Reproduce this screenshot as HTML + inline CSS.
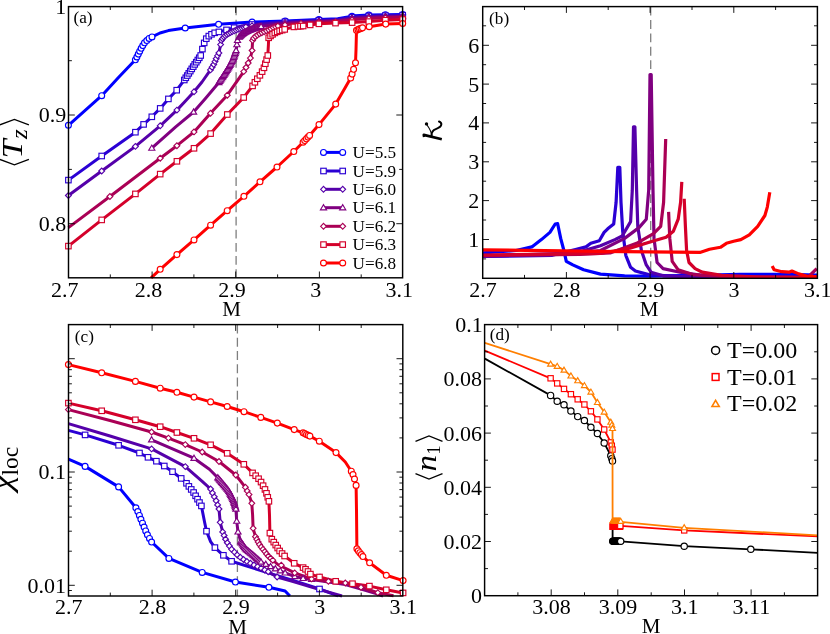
<!DOCTYPE html>
<html><head><meta charset="utf-8"><title>fig</title>
<style>
html,body{margin:0;padding:0;background:#fff;}
body{width:830px;height:634px;overflow:hidden;}
svg{display:block;will-change:transform;}
text{font-family:"Liberation Serif",serif;fill:#000;}
</style></head><body>
<svg width="830" height="634" viewBox="0 0 830 634">
<rect x="0" y="0" width="830" height="634" fill="#fff"/>
<g id="pa">
<clipPath id="ca"><rect x="68.5" y="6.6" width="334.1" height="271.2"/></clipPath>
<line x1="236.1" y1="6.6" x2="236.1" y2="277.8" stroke="#7f7f7f" stroke-width="1.3" stroke-dasharray="8.75 4.38" stroke-dashoffset="0"/>
<g>
<polyline points="68.4,125.3 101.7,95.7 118,78 135.4,59.8 138.1,54.5 141.2,48.2 144.8,42.4 148.7,38.6 152,36.9 160,33 168.4,30.6 185.2,28 218.6,24.3 252.1,22.1 285.2,21 318.9,19.5 337.7,18.7 355,15.8 368.8,15.1 385.4,14.8 402.7,14.4" fill="none" stroke="#0000FF" stroke-width="3.0" stroke-linecap="butt" stroke-linejoin="round"/>
<circle cx="68.4" cy="125.3" r="2.95" fill="#fff" stroke="#0000FF" stroke-width="1.15"/>
<circle cx="101.7" cy="95.7" r="2.95" fill="#fff" stroke="#0000FF" stroke-width="1.15"/>
<circle cx="135.4" cy="59.8" r="2.95" fill="#fff" stroke="#0000FF" stroke-width="1.15"/>
<circle cx="136.9" cy="56.9" r="2.95" fill="#fff" stroke="#0000FF" stroke-width="1.15"/>
<circle cx="138.3" cy="54.1" r="2.95" fill="#fff" stroke="#0000FF" stroke-width="1.15"/>
<circle cx="139.7" cy="51.2" r="2.95" fill="#fff" stroke="#0000FF" stroke-width="1.15"/>
<circle cx="141.2" cy="48.3" r="2.95" fill="#fff" stroke="#0000FF" stroke-width="1.15"/>
<circle cx="142.8" cy="45.6" r="2.95" fill="#fff" stroke="#0000FF" stroke-width="1.15"/>
<circle cx="144.5" cy="42.8" r="2.95" fill="#fff" stroke="#0000FF" stroke-width="1.15"/>
<circle cx="146.8" cy="40.5" r="2.95" fill="#fff" stroke="#0000FF" stroke-width="1.15"/>
<circle cx="149.1" cy="38.4" r="2.95" fill="#fff" stroke="#0000FF" stroke-width="1.15"/>
<circle cx="152" cy="36.9" r="2.95" fill="#fff" stroke="#0000FF" stroke-width="1.15"/>
<circle cx="185.2" cy="28" r="2.95" fill="#fff" stroke="#0000FF" stroke-width="1.15"/>
<circle cx="218.6" cy="24.3" r="2.95" fill="#fff" stroke="#0000FF" stroke-width="1.15"/>
<circle cx="252.1" cy="22.1" r="2.95" fill="#fff" stroke="#0000FF" stroke-width="1.15"/>
<circle cx="285.2" cy="21" r="2.95" fill="#fff" stroke="#0000FF" stroke-width="1.15"/>
<circle cx="318.9" cy="19.5" r="2.95" fill="#fff" stroke="#0000FF" stroke-width="1.15"/>
<circle cx="352" cy="16.3" r="2.95" fill="#fff" stroke="#0000FF" stroke-width="1.15"/>
<circle cx="368.8" cy="15.1" r="2.95" fill="#fff" stroke="#0000FF" stroke-width="1.15"/>
<circle cx="385.4" cy="14.8" r="2.95" fill="#fff" stroke="#0000FF" stroke-width="1.15"/>
<circle cx="402.7" cy="14.4" r="2.95" fill="#fff" stroke="#0000FF" stroke-width="1.15"/>
<polyline points="68.4,180.1 101.7,156 135.4,132.2 143.6,124.4 151.8,116.8 160.2,108.4 168.4,98.9 176.7,90.2 184.3,80 190,71.5 195,64 198.5,59 200.7,55.5 202.4,49.1 204.2,42.9 206.3,38.7 208.8,36.1 211.5,34.3 214.7,32.8 218.9,31.9 226.5,29.9 234.1,27.7 245.9,25.2 260,23.5 285,21.8 318.9,20.3 337.7,19.5 355,16.8 368.8,16 385.4,15.6 402.7,15.2" fill="none" stroke="#2A00D4" stroke-width="3.0" stroke-linecap="butt" stroke-linejoin="round"/>
<rect x="65.65" y="177.35" width="5.50" height="5.50" fill="#fff" stroke="#2A00D4" stroke-width="1.15"/>
<rect x="98.95" y="153.25" width="5.50" height="5.50" fill="#fff" stroke="#2A00D4" stroke-width="1.15"/>
<rect x="132.65" y="129.45" width="5.50" height="5.50" fill="#fff" stroke="#2A00D4" stroke-width="1.15"/>
<rect x="140.85" y="121.65" width="5.50" height="5.50" fill="#fff" stroke="#2A00D4" stroke-width="1.15"/>
<rect x="149.05" y="114.05" width="5.50" height="5.50" fill="#fff" stroke="#2A00D4" stroke-width="1.15"/>
<rect x="157.45" y="105.65" width="5.50" height="5.50" fill="#fff" stroke="#2A00D4" stroke-width="1.15"/>
<rect x="165.65" y="96.15" width="5.50" height="5.50" fill="#fff" stroke="#2A00D4" stroke-width="1.15"/>
<rect x="173.95" y="87.45" width="5.50" height="5.50" fill="#fff" stroke="#2A00D4" stroke-width="1.15"/>
<rect x="181.55" y="77.25" width="5.50" height="5.50" fill="#fff" stroke="#2A00D4" stroke-width="1.15"/>
<rect x="183.04" y="75.02" width="5.50" height="5.50" fill="#fff" stroke="#2A00D4" stroke-width="1.15"/>
<rect x="184.54" y="72.80" width="5.50" height="5.50" fill="#fff" stroke="#2A00D4" stroke-width="1.15"/>
<rect x="186.03" y="70.57" width="5.50" height="5.50" fill="#fff" stroke="#2A00D4" stroke-width="1.15"/>
<rect x="187.52" y="68.34" width="5.50" height="5.50" fill="#fff" stroke="#2A00D4" stroke-width="1.15"/>
<rect x="189.01" y="66.11" width="5.50" height="5.50" fill="#fff" stroke="#2A00D4" stroke-width="1.15"/>
<rect x="190.49" y="63.88" width="5.50" height="5.50" fill="#fff" stroke="#2A00D4" stroke-width="1.15"/>
<rect x="191.98" y="61.65" width="5.50" height="5.50" fill="#fff" stroke="#2A00D4" stroke-width="1.15"/>
<rect x="193.51" y="59.45" width="5.50" height="5.50" fill="#fff" stroke="#2A00D4" stroke-width="1.15"/>
<rect x="195.05" y="57.26" width="5.50" height="5.50" fill="#fff" stroke="#2A00D4" stroke-width="1.15"/>
<rect x="196.52" y="55.02" width="5.50" height="5.50" fill="#fff" stroke="#2A00D4" stroke-width="1.15"/>
<rect x="197.95" y="52.75" width="5.50" height="5.50" fill="#fff" stroke="#2A00D4" stroke-width="1.15"/>
<rect x="199.65" y="46.35" width="5.50" height="5.50" fill="#fff" stroke="#2A00D4" stroke-width="1.15"/>
<rect x="201.45" y="40.15" width="5.50" height="5.50" fill="#fff" stroke="#2A00D4" stroke-width="1.15"/>
<rect x="203.55" y="35.95" width="5.50" height="5.50" fill="#fff" stroke="#2A00D4" stroke-width="1.15"/>
<rect x="206.05" y="33.35" width="5.50" height="5.50" fill="#fff" stroke="#2A00D4" stroke-width="1.15"/>
<rect x="208.75" y="31.55" width="5.50" height="5.50" fill="#fff" stroke="#2A00D4" stroke-width="1.15"/>
<rect x="211.95" y="30.05" width="5.50" height="5.50" fill="#fff" stroke="#2A00D4" stroke-width="1.15"/>
<rect x="216.15" y="29.15" width="5.50" height="5.50" fill="#fff" stroke="#2A00D4" stroke-width="1.15"/>
<rect x="223.75" y="27.15" width="5.50" height="5.50" fill="#fff" stroke="#2A00D4" stroke-width="1.15"/>
<rect x="231.35" y="24.95" width="5.50" height="5.50" fill="#fff" stroke="#2A00D4" stroke-width="1.15"/>
<rect x="249.25" y="21.75" width="5.50" height="5.50" fill="#fff" stroke="#2A00D4" stroke-width="1.15"/>
<rect x="282.25" y="19.05" width="5.50" height="5.50" fill="#fff" stroke="#2A00D4" stroke-width="1.15"/>
<rect x="316.15" y="17.55" width="5.50" height="5.50" fill="#fff" stroke="#2A00D4" stroke-width="1.15"/>
<rect x="349.25" y="14.55" width="5.50" height="5.50" fill="#fff" stroke="#2A00D4" stroke-width="1.15"/>
<rect x="366.05" y="13.25" width="5.50" height="5.50" fill="#fff" stroke="#2A00D4" stroke-width="1.15"/>
<rect x="382.65" y="12.85" width="5.50" height="5.50" fill="#fff" stroke="#2A00D4" stroke-width="1.15"/>
<rect x="399.95" y="12.45" width="5.50" height="5.50" fill="#fff" stroke="#2A00D4" stroke-width="1.15"/>
<polyline points="68.4,195.5 101.7,171 135.4,146.4 160.2,125.8 176.9,110.1 185,101.5 194,91.8 202,82 210.5,69.9 214,64 216.5,58 218.9,53 220.6,44.6 221.4,40.4 223.1,37.8 226,35 231.6,31.9 239.1,28.9 245.9,26.9 260,24.5 285,22.5 318.9,21 337.7,20.2 355,17.6 368.8,16.8 385.4,16.3 402.7,15.9" fill="none" stroke="#5500AA" stroke-width="3.0" stroke-linecap="butt" stroke-linejoin="round"/>
<path d="M65.50 195.50L68.40 192.60L71.30 195.50L68.40 198.40Z" fill="#fff" stroke="#5500AA" stroke-width="1.15"/>
<path d="M98.80 171.00L101.70 168.10L104.60 171.00L101.70 173.90Z" fill="#fff" stroke="#5500AA" stroke-width="1.15"/>
<path d="M132.50 146.40L135.40 143.50L138.30 146.40L135.40 149.30Z" fill="#fff" stroke="#5500AA" stroke-width="1.15"/>
<path d="M157.30 125.80L160.20 122.90L163.10 125.80L160.20 128.70Z" fill="#fff" stroke="#5500AA" stroke-width="1.15"/>
<path d="M174.00 110.10L176.90 107.20L179.80 110.10L176.90 113.00Z" fill="#fff" stroke="#5500AA" stroke-width="1.15"/>
<path d="M191.10 91.80L194.00 88.90L196.90 91.80L194.00 94.70Z" fill="#fff" stroke="#5500AA" stroke-width="1.15"/>
<path d="M207.60 69.90L210.50 67.00L213.40 69.90L210.50 72.80Z" fill="#fff" stroke="#5500AA" stroke-width="1.15"/>
<path d="M209.21 67.19L212.11 64.29L215.01 67.19L212.11 70.09Z" fill="#fff" stroke="#5500AA" stroke-width="1.15"/>
<path d="M210.82 64.48L213.72 61.58L216.62 64.48L213.72 67.38Z" fill="#fff" stroke="#5500AA" stroke-width="1.15"/>
<path d="M212.10 61.61L215.00 58.71L217.90 61.61L215.00 64.51Z" fill="#fff" stroke="#5500AA" stroke-width="1.15"/>
<path d="M213.31 58.70L216.21 55.80L219.11 58.70L216.21 61.60Z" fill="#fff" stroke="#5500AA" stroke-width="1.15"/>
<path d="M214.64 55.84L217.54 52.94L220.44 55.84L217.54 58.74Z" fill="#fff" stroke="#5500AA" stroke-width="1.15"/>
<path d="M216.00 53.00L218.90 50.10L221.80 53.00L218.90 55.90Z" fill="#fff" stroke="#5500AA" stroke-width="1.15"/>
<path d="M217.70 44.60L220.60 41.70L223.50 44.60L220.60 47.50Z" fill="#fff" stroke="#5500AA" stroke-width="1.15"/>
<path d="M218.50 40.40L221.40 37.50L224.30 40.40L221.40 43.30Z" fill="#fff" stroke="#5500AA" stroke-width="1.15"/>
<path d="M219.62 38.68L222.52 35.78L225.42 38.68L222.52 41.58Z" fill="#fff" stroke="#5500AA" stroke-width="1.15"/>
<path d="M220.92 37.11L223.82 34.21L226.72 37.11L223.82 40.01Z" fill="#fff" stroke="#5500AA" stroke-width="1.15"/>
<path d="M222.39 35.69L225.29 32.79L228.19 35.69L225.29 38.59Z" fill="#fff" stroke="#5500AA" stroke-width="1.15"/>
<path d="M224.03 34.48L226.93 31.58L229.83 34.48L226.93 37.38Z" fill="#fff" stroke="#5500AA" stroke-width="1.15"/>
<path d="M225.82 33.49L228.72 30.59L231.62 33.49L228.72 36.39Z" fill="#fff" stroke="#5500AA" stroke-width="1.15"/>
<path d="M227.62 32.50L230.52 29.60L233.42 32.50L230.52 35.40Z" fill="#fff" stroke="#5500AA" stroke-width="1.15"/>
<path d="M229.46 31.60L232.36 28.70L235.26 31.60L232.36 34.50Z" fill="#fff" stroke="#5500AA" stroke-width="1.15"/>
<path d="M231.36 30.84L234.26 27.94L237.16 30.84L234.26 33.74Z" fill="#fff" stroke="#5500AA" stroke-width="1.15"/>
<path d="M233.26 30.07L236.16 27.17L239.06 30.07L236.16 32.97Z" fill="#fff" stroke="#5500AA" stroke-width="1.15"/>
<path d="M235.17 29.31L238.07 26.41L240.97 29.31L238.07 32.21Z" fill="#fff" stroke="#5500AA" stroke-width="1.15"/>
<path d="M237.10 28.64L240.00 25.74L242.90 28.64L240.00 31.54Z" fill="#fff" stroke="#5500AA" stroke-width="1.15"/>
<path d="M239.07 28.06L241.97 25.16L244.87 28.06L241.97 30.96Z" fill="#fff" stroke="#5500AA" stroke-width="1.15"/>
<path d="M241.03 27.48L243.93 24.58L246.83 27.48L243.93 30.38Z" fill="#fff" stroke="#5500AA" stroke-width="1.15"/>
<path d="M243.00 26.90L245.90 24.00L248.80 26.90L245.90 29.80Z" fill="#fff" stroke="#5500AA" stroke-width="1.15"/>
<path d="M249.10 25.80L252.00 22.90L254.90 25.80L252.00 28.70Z" fill="#fff" stroke="#5500AA" stroke-width="1.15"/>
<path d="M282.10 22.50L285.00 19.60L287.90 22.50L285.00 25.40Z" fill="#fff" stroke="#5500AA" stroke-width="1.15"/>
<path d="M316.00 21.00L318.90 18.10L321.80 21.00L318.90 23.90Z" fill="#fff" stroke="#5500AA" stroke-width="1.15"/>
<path d="M349.10 18.00L352.00 15.10L354.90 18.00L352.00 20.90Z" fill="#fff" stroke="#5500AA" stroke-width="1.15"/>
<path d="M365.90 16.80L368.80 13.90L371.70 16.80L368.80 19.70Z" fill="#fff" stroke="#5500AA" stroke-width="1.15"/>
<path d="M382.50 16.30L385.40 13.40L388.30 16.30L385.40 19.20Z" fill="#fff" stroke="#5500AA" stroke-width="1.15"/>
<path d="M399.80 15.90L402.70 13.00L405.60 15.90L402.70 18.80Z" fill="#fff" stroke="#5500AA" stroke-width="1.15"/>
<polyline points="151.8,148.1 175.7,126.8 193.6,112 205,99 218.9,82.5 224,75 229,67 233.2,58.9 236.1,50.5 236.9,44.6 237.5,40.4 239.1,37 241.7,34.5 245,32.2 249.3,30.2 254.3,28.2 261.1,26.5 275,24.5 295,22.8 318.9,21.7 337.7,20.9 355,18.4 368.8,17.6 385.4,17 402.7,16.6" fill="none" stroke="#800080" stroke-width="3.0" stroke-linecap="butt" stroke-linejoin="round"/>
<path d="M148.74 150.21L154.86 150.21L151.80 145.04Z" fill="#fff" stroke="#800080" stroke-width="1.15"/>
<path d="M190.54 114.11L196.66 114.11L193.60 108.94Z" fill="#fff" stroke="#800080" stroke-width="1.15"/>
<path d="M215.84 84.61L221.96 84.61L218.90 79.44Z" fill="#fff" stroke="#800080" stroke-width="1.15"/>
<path d="M216.66 83.40L222.78 83.40L219.72 78.23Z" fill="#fff" stroke="#800080" stroke-width="1.15"/>
<path d="M217.48 82.19L223.60 82.19L220.54 77.02Z" fill="#fff" stroke="#800080" stroke-width="1.15"/>
<path d="M218.30 80.98L224.42 80.98L221.36 75.82Z" fill="#fff" stroke="#800080" stroke-width="1.15"/>
<path d="M219.13 79.78L225.25 79.78L222.19 74.61Z" fill="#fff" stroke="#800080" stroke-width="1.15"/>
<path d="M219.95 78.57L226.07 78.57L223.01 73.40Z" fill="#fff" stroke="#800080" stroke-width="1.15"/>
<path d="M220.77 77.36L226.89 77.36L223.83 72.19Z" fill="#fff" stroke="#800080" stroke-width="1.15"/>
<path d="M221.55 76.13L227.67 76.13L224.61 70.96Z" fill="#fff" stroke="#800080" stroke-width="1.15"/>
<path d="M222.33 74.89L228.45 74.89L225.39 69.72Z" fill="#fff" stroke="#800080" stroke-width="1.15"/>
<path d="M223.10 73.65L229.22 73.65L226.16 68.48Z" fill="#fff" stroke="#800080" stroke-width="1.15"/>
<path d="M223.87 72.41L229.99 72.41L226.93 67.25Z" fill="#fff" stroke="#800080" stroke-width="1.15"/>
<path d="M224.65 71.17L230.77 71.17L227.71 66.01Z" fill="#fff" stroke="#800080" stroke-width="1.15"/>
<path d="M225.42 69.94L231.54 69.94L228.48 64.77Z" fill="#fff" stroke="#800080" stroke-width="1.15"/>
<path d="M226.16 68.68L232.28 68.68L229.22 63.51Z" fill="#fff" stroke="#800080" stroke-width="1.15"/>
<path d="M226.84 67.38L232.96 67.38L229.90 62.21Z" fill="#fff" stroke="#800080" stroke-width="1.15"/>
<path d="M227.51 66.09L233.63 66.09L230.57 60.92Z" fill="#fff" stroke="#800080" stroke-width="1.15"/>
<path d="M228.18 64.79L234.30 64.79L231.24 59.62Z" fill="#fff" stroke="#800080" stroke-width="1.15"/>
<path d="M228.85 63.49L234.97 63.49L231.91 58.32Z" fill="#fff" stroke="#800080" stroke-width="1.15"/>
<path d="M229.52 62.20L235.64 62.20L232.58 57.03Z" fill="#fff" stroke="#800080" stroke-width="1.15"/>
<path d="M230.18 60.89L236.30 60.89L233.24 55.72Z" fill="#fff" stroke="#800080" stroke-width="1.15"/>
<path d="M230.66 59.51L236.78 59.51L233.72 54.34Z" fill="#fff" stroke="#800080" stroke-width="1.15"/>
<path d="M231.13 58.13L237.25 58.13L234.19 52.96Z" fill="#fff" stroke="#800080" stroke-width="1.15"/>
<path d="M231.61 56.75L237.73 56.75L234.67 51.58Z" fill="#fff" stroke="#800080" stroke-width="1.15"/>
<path d="M232.09 55.37L238.21 55.37L235.15 50.20Z" fill="#fff" stroke="#800080" stroke-width="1.15"/>
<path d="M232.56 53.99L238.68 53.99L235.62 48.82Z" fill="#fff" stroke="#800080" stroke-width="1.15"/>
<path d="M233.04 52.61L239.16 52.61L236.10 47.44Z" fill="#fff" stroke="#800080" stroke-width="1.15"/>
<path d="M233.84 46.71L239.96 46.71L236.90 41.54Z" fill="#fff" stroke="#800080" stroke-width="1.15"/>
<path d="M234.44 42.51L240.56 42.51L237.50 37.34Z" fill="#fff" stroke="#800080" stroke-width="1.15"/>
<path d="M236.04 39.11L242.16 39.11L239.10 33.94Z" fill="#fff" stroke="#800080" stroke-width="1.15"/>
<path d="M236.55 38.62L242.67 38.62L239.61 33.45Z" fill="#fff" stroke="#800080" stroke-width="1.15"/>
<path d="M237.06 38.13L243.18 38.13L240.12 32.96Z" fill="#fff" stroke="#800080" stroke-width="1.15"/>
<path d="M237.57 37.64L243.69 37.64L240.63 32.47Z" fill="#fff" stroke="#800080" stroke-width="1.15"/>
<path d="M238.08 37.15L244.20 37.15L241.14 31.98Z" fill="#fff" stroke="#800080" stroke-width="1.15"/>
<path d="M238.59 36.66L244.71 36.66L241.65 31.49Z" fill="#fff" stroke="#800080" stroke-width="1.15"/>
<path d="M239.16 36.24L245.28 36.24L242.22 31.07Z" fill="#fff" stroke="#800080" stroke-width="1.15"/>
<path d="M239.74 35.84L245.86 35.84L242.80 30.67Z" fill="#fff" stroke="#800080" stroke-width="1.15"/>
<path d="M240.33 35.43L246.45 35.43L243.39 30.27Z" fill="#fff" stroke="#800080" stroke-width="1.15"/>
<path d="M240.91 35.03L247.03 35.03L243.97 29.86Z" fill="#fff" stroke="#800080" stroke-width="1.15"/>
<path d="M241.49 34.62L247.61 34.62L244.55 29.46Z" fill="#fff" stroke="#800080" stroke-width="1.15"/>
<path d="M242.08 34.24L248.20 34.24L245.14 29.07Z" fill="#fff" stroke="#800080" stroke-width="1.15"/>
<path d="M242.72 33.94L248.84 33.94L245.78 28.78Z" fill="#fff" stroke="#800080" stroke-width="1.15"/>
<path d="M243.36 33.65L249.48 33.65L246.42 28.48Z" fill="#fff" stroke="#800080" stroke-width="1.15"/>
<path d="M244.00 33.35L250.12 33.35L247.06 28.18Z" fill="#fff" stroke="#800080" stroke-width="1.15"/>
<path d="M244.65 33.05L250.77 33.05L247.71 27.88Z" fill="#fff" stroke="#800080" stroke-width="1.15"/>
<path d="M245.29 32.75L251.41 32.75L248.35 27.58Z" fill="#fff" stroke="#800080" stroke-width="1.15"/>
<path d="M245.93 32.45L252.05 32.45L248.99 27.28Z" fill="#fff" stroke="#800080" stroke-width="1.15"/>
<path d="M246.58 32.17L252.70 32.17L249.64 27.00Z" fill="#fff" stroke="#800080" stroke-width="1.15"/>
<path d="M247.24 31.91L253.36 31.91L250.30 26.74Z" fill="#fff" stroke="#800080" stroke-width="1.15"/>
<path d="M247.89 31.65L254.01 31.65L250.95 26.48Z" fill="#fff" stroke="#800080" stroke-width="1.15"/>
<path d="M248.55 31.38L254.67 31.38L251.61 26.22Z" fill="#fff" stroke="#800080" stroke-width="1.15"/>
<path d="M249.21 31.12L255.33 31.12L252.27 25.95Z" fill="#fff" stroke="#800080" stroke-width="1.15"/>
<path d="M249.86 30.86L255.98 30.86L252.92 25.69Z" fill="#fff" stroke="#800080" stroke-width="1.15"/>
<path d="M250.52 30.60L256.64 30.60L253.58 25.43Z" fill="#fff" stroke="#800080" stroke-width="1.15"/>
<path d="M251.18 30.33L257.30 30.33L254.24 25.16Z" fill="#fff" stroke="#800080" stroke-width="1.15"/>
<path d="M251.86 30.15L257.98 30.15L254.92 24.98Z" fill="#fff" stroke="#800080" stroke-width="1.15"/>
<path d="M252.55 29.98L258.67 29.98L255.61 24.81Z" fill="#fff" stroke="#800080" stroke-width="1.15"/>
<path d="M253.23 29.81L259.35 29.81L256.29 24.64Z" fill="#fff" stroke="#800080" stroke-width="1.15"/>
<path d="M253.92 29.64L260.04 29.64L256.98 24.47Z" fill="#fff" stroke="#800080" stroke-width="1.15"/>
<path d="M254.61 29.47L260.73 29.47L257.67 24.30Z" fill="#fff" stroke="#800080" stroke-width="1.15"/>
<path d="M255.29 29.29L261.41 29.29L258.35 24.13Z" fill="#fff" stroke="#800080" stroke-width="1.15"/>
<path d="M255.98 29.12L262.10 29.12L259.04 23.95Z" fill="#fff" stroke="#800080" stroke-width="1.15"/>
<path d="M256.67 28.95L262.79 28.95L259.73 23.78Z" fill="#fff" stroke="#800080" stroke-width="1.15"/>
<path d="M257.35 28.78L263.47 28.78L260.41 23.61Z" fill="#fff" stroke="#800080" stroke-width="1.15"/>
<path d="M258.04 28.61L264.16 28.61L261.10 23.44Z" fill="#fff" stroke="#800080" stroke-width="1.15"/>
<path d="M281.94 25.71L288.06 25.71L285.00 20.54Z" fill="#fff" stroke="#800080" stroke-width="1.15"/>
<path d="M315.84 23.81L321.96 23.81L318.90 18.64Z" fill="#fff" stroke="#800080" stroke-width="1.15"/>
<path d="M348.94 20.91L355.06 20.91L352.00 15.74Z" fill="#fff" stroke="#800080" stroke-width="1.15"/>
<path d="M365.74 19.71L371.86 19.71L368.80 14.54Z" fill="#fff" stroke="#800080" stroke-width="1.15"/>
<path d="M382.34 19.11L388.46 19.11L385.40 13.94Z" fill="#fff" stroke="#800080" stroke-width="1.15"/>
<path d="M399.64 18.71L405.76 18.71L402.70 13.54Z" fill="#fff" stroke="#800080" stroke-width="1.15"/>
<polyline points="68.4,227.6 109.9,196.5 160.2,158.2 176.9,145.7 194,131.9 210.5,113.3 227.3,95.2 243.7,71.6 247,65.5 250.4,58.1 252.1,50.5 252.6,40.4 253.8,37.8 256.8,35.3 260,33.5 263.6,31.9 267.8,30.2 272.9,27.7 277.9,26 290,24.2 305,23 318.9,22.4 337.7,21.6 355,19.5 368.8,18.6 385.4,17.8 402.7,17.3" fill="none" stroke="#AA0055" stroke-width="3.0" stroke-linecap="butt" stroke-linejoin="round"/>
<path d="M107.00 196.50L109.90 193.60L112.80 196.50L109.90 199.40Z" fill="#fff" stroke="#AA0055" stroke-width="1.15"/>
<path d="M157.30 158.20L160.20 155.30L163.10 158.20L160.20 161.10Z" fill="#fff" stroke="#AA0055" stroke-width="1.15"/>
<path d="M174.00 145.70L176.90 142.80L179.80 145.70L176.90 148.60Z" fill="#fff" stroke="#AA0055" stroke-width="1.15"/>
<path d="M191.10 131.90L194.00 129.00L196.90 131.90L194.00 134.80Z" fill="#fff" stroke="#AA0055" stroke-width="1.15"/>
<path d="M207.60 113.30L210.50 110.40L213.40 113.30L210.50 116.20Z" fill="#fff" stroke="#AA0055" stroke-width="1.15"/>
<path d="M224.40 95.20L227.30 92.30L230.20 95.20L227.30 98.10Z" fill="#fff" stroke="#AA0055" stroke-width="1.15"/>
<path d="M240.80 71.60L243.70 68.70L246.60 71.60L243.70 74.50Z" fill="#fff" stroke="#AA0055" stroke-width="1.15"/>
<path d="M243.10 67.50L246.00 64.60L248.90 67.50L246.00 70.40Z" fill="#fff" stroke="#AA0055" stroke-width="1.15"/>
<path d="M245.30 63.00L248.20 60.10L251.10 63.00L248.20 65.90Z" fill="#fff" stroke="#AA0055" stroke-width="1.15"/>
<path d="M247.50 58.10L250.40 55.20L253.30 58.10L250.40 61.00Z" fill="#fff" stroke="#AA0055" stroke-width="1.15"/>
<path d="M249.20 50.50L252.10 47.60L255.00 50.50L252.10 53.40Z" fill="#fff" stroke="#AA0055" stroke-width="1.15"/>
<path d="M249.70 40.40L252.60 37.50L255.50 40.40L252.60 43.30Z" fill="#fff" stroke="#AA0055" stroke-width="1.15"/>
<path d="M250.74 38.14L253.64 35.24L256.54 38.14L253.64 41.04Z" fill="#fff" stroke="#AA0055" stroke-width="1.15"/>
<path d="M252.52 36.45L255.42 33.55L258.32 36.45L255.42 39.35Z" fill="#fff" stroke="#AA0055" stroke-width="1.15"/>
<path d="M254.51 34.96L257.41 32.06L260.31 34.96L257.41 37.86Z" fill="#fff" stroke="#AA0055" stroke-width="1.15"/>
<path d="M256.68 33.74L259.58 30.84L262.48 33.74L259.58 36.64Z" fill="#fff" stroke="#AA0055" stroke-width="1.15"/>
<path d="M258.93 32.69L261.83 29.79L264.73 32.69L261.83 35.59Z" fill="#fff" stroke="#AA0055" stroke-width="1.15"/>
<path d="M261.22 31.69L264.12 28.79L267.02 31.69L264.12 34.59Z" fill="#fff" stroke="#AA0055" stroke-width="1.15"/>
<path d="M263.52 30.76L266.42 27.86L269.32 30.76L266.42 33.66Z" fill="#fff" stroke="#AA0055" stroke-width="1.15"/>
<path d="M265.80 29.76L268.70 26.86L271.60 29.76L268.70 32.66Z" fill="#fff" stroke="#AA0055" stroke-width="1.15"/>
<path d="M268.04 28.66L270.94 25.76L273.84 28.66L270.94 31.56Z" fill="#fff" stroke="#AA0055" stroke-width="1.15"/>
<path d="M270.29 27.60L273.19 24.70L276.09 27.60L273.19 30.50Z" fill="#fff" stroke="#AA0055" stroke-width="1.15"/>
<path d="M272.64 26.80L275.54 23.90L278.44 26.80L275.54 29.70Z" fill="#fff" stroke="#AA0055" stroke-width="1.15"/>
<path d="M275.00 26.00L277.90 23.10L280.80 26.00L277.90 28.90Z" fill="#fff" stroke="#AA0055" stroke-width="1.15"/>
<path d="M282.10 24.90L285.00 22.00L287.90 24.90L285.00 27.80Z" fill="#fff" stroke="#AA0055" stroke-width="1.15"/>
<path d="M298.10 23.30L301.00 20.40L303.90 23.30L301.00 26.20Z" fill="#fff" stroke="#AA0055" stroke-width="1.15"/>
<path d="M316.00 22.40L318.90 19.50L321.80 22.40L318.90 25.30Z" fill="#fff" stroke="#AA0055" stroke-width="1.15"/>
<path d="M332.60 21.70L335.50 18.80L338.40 21.70L335.50 24.60Z" fill="#fff" stroke="#AA0055" stroke-width="1.15"/>
<path d="M349.10 19.90L352.00 17.00L354.90 19.90L352.00 22.80Z" fill="#fff" stroke="#AA0055" stroke-width="1.15"/>
<path d="M365.90 18.60L368.80 15.70L371.70 18.60L368.80 21.50Z" fill="#fff" stroke="#AA0055" stroke-width="1.15"/>
<path d="M382.50 17.80L385.40 14.90L388.30 17.80L385.40 20.70Z" fill="#fff" stroke="#AA0055" stroke-width="1.15"/>
<path d="M399.80 17.30L402.70 14.40L405.60 17.30L402.70 20.20Z" fill="#fff" stroke="#AA0055" stroke-width="1.15"/>
<polyline points="68.4,246.1 101.7,219.9 135.4,193.9 160.2,174.1 176.9,161.3 194,148.3 210.6,133.6 227.3,114.5 243.7,97.5 252.6,85.9 256,80.5 259.8,75.5 263.4,69.5 266.1,61.4 267.8,55.5 268.4,45 268.7,37.8 271.2,35.3 274.6,33 278.8,31.1 284.7,29.4 293.9,26.9 303.2,26 310.2,24.9 318.9,23.8 335.5,23.1 352.1,22.6 368.8,21.6 385.4,20.2 402.7,19.5" fill="none" stroke="#D4002A" stroke-width="3.0" stroke-linecap="butt" stroke-linejoin="round"/>
<rect x="65.65" y="243.35" width="5.50" height="5.50" fill="#fff" stroke="#D4002A" stroke-width="1.15"/>
<rect x="98.95" y="217.15" width="5.50" height="5.50" fill="#fff" stroke="#D4002A" stroke-width="1.15"/>
<rect x="132.65" y="191.15" width="5.50" height="5.50" fill="#fff" stroke="#D4002A" stroke-width="1.15"/>
<rect x="157.45" y="171.35" width="5.50" height="5.50" fill="#fff" stroke="#D4002A" stroke-width="1.15"/>
<rect x="174.15" y="158.55" width="5.50" height="5.50" fill="#fff" stroke="#D4002A" stroke-width="1.15"/>
<rect x="191.25" y="145.55" width="5.50" height="5.50" fill="#fff" stroke="#D4002A" stroke-width="1.15"/>
<rect x="207.85" y="130.85" width="5.50" height="5.50" fill="#fff" stroke="#D4002A" stroke-width="1.15"/>
<rect x="224.55" y="111.75" width="5.50" height="5.50" fill="#fff" stroke="#D4002A" stroke-width="1.15"/>
<rect x="240.95" y="94.75" width="5.50" height="5.50" fill="#fff" stroke="#D4002A" stroke-width="1.15"/>
<rect x="249.85" y="83.15" width="5.50" height="5.50" fill="#fff" stroke="#D4002A" stroke-width="1.15"/>
<rect x="252.14" y="79.52" width="5.50" height="5.50" fill="#fff" stroke="#D4002A" stroke-width="1.15"/>
<rect x="254.58" y="76.00" width="5.50" height="5.50" fill="#fff" stroke="#D4002A" stroke-width="1.15"/>
<rect x="257.16" y="72.57" width="5.50" height="5.50" fill="#fff" stroke="#D4002A" stroke-width="1.15"/>
<rect x="259.37" y="68.89" width="5.50" height="5.50" fill="#fff" stroke="#D4002A" stroke-width="1.15"/>
<rect x="261.22" y="65.04" width="5.50" height="5.50" fill="#fff" stroke="#D4002A" stroke-width="1.15"/>
<rect x="262.58" y="60.97" width="5.50" height="5.50" fill="#fff" stroke="#D4002A" stroke-width="1.15"/>
<rect x="263.86" y="56.87" width="5.50" height="5.50" fill="#fff" stroke="#D4002A" stroke-width="1.15"/>
<rect x="265.05" y="52.75" width="5.50" height="5.50" fill="#fff" stroke="#D4002A" stroke-width="1.15"/>
<rect x="265.95" y="35.05" width="5.50" height="5.50" fill="#fff" stroke="#D4002A" stroke-width="1.15"/>
<rect x="267.81" y="33.19" width="5.50" height="5.50" fill="#fff" stroke="#D4002A" stroke-width="1.15"/>
<rect x="269.87" y="31.59" width="5.50" height="5.50" fill="#fff" stroke="#D4002A" stroke-width="1.15"/>
<rect x="272.07" y="30.15" width="5.50" height="5.50" fill="#fff" stroke="#D4002A" stroke-width="1.15"/>
<rect x="274.46" y="29.07" width="5.50" height="5.50" fill="#fff" stroke="#D4002A" stroke-width="1.15"/>
<rect x="276.90" y="28.10" width="5.50" height="5.50" fill="#fff" stroke="#D4002A" stroke-width="1.15"/>
<rect x="279.43" y="27.38" width="5.50" height="5.50" fill="#fff" stroke="#D4002A" stroke-width="1.15"/>
<rect x="281.95" y="26.65" width="5.50" height="5.50" fill="#fff" stroke="#D4002A" stroke-width="1.15"/>
<rect x="291.15" y="24.15" width="5.50" height="5.50" fill="#fff" stroke="#D4002A" stroke-width="1.15"/>
<rect x="295.25" y="23.65" width="5.50" height="5.50" fill="#fff" stroke="#D4002A" stroke-width="1.15"/>
<rect x="297.75" y="23.45" width="5.50" height="5.50" fill="#fff" stroke="#D4002A" stroke-width="1.15"/>
<rect x="300.45" y="23.25" width="5.50" height="5.50" fill="#fff" stroke="#D4002A" stroke-width="1.15"/>
<rect x="307.45" y="22.15" width="5.50" height="5.50" fill="#fff" stroke="#D4002A" stroke-width="1.15"/>
<rect x="316.15" y="21.05" width="5.50" height="5.50" fill="#fff" stroke="#D4002A" stroke-width="1.15"/>
<rect x="332.75" y="20.35" width="5.50" height="5.50" fill="#fff" stroke="#D4002A" stroke-width="1.15"/>
<rect x="349.35" y="19.85" width="5.50" height="5.50" fill="#fff" stroke="#D4002A" stroke-width="1.15"/>
<rect x="366.05" y="18.85" width="5.50" height="5.50" fill="#fff" stroke="#D4002A" stroke-width="1.15"/>
<rect x="382.65" y="17.45" width="5.50" height="5.50" fill="#fff" stroke="#D4002A" stroke-width="1.15"/>
<rect x="399.95" y="16.75" width="5.50" height="5.50" fill="#fff" stroke="#D4002A" stroke-width="1.15"/>
<polyline points="151.1,277.8 160.2,269.3 176.9,254.6 194,239.9 210.6,225.2 227.2,210.7 243.9,196.3 260,181.8 277,167 293.8,151.5 303.1,142.2 309.6,135.4 319,124.6 335.7,104.1 345,88 350.7,78 352.1,74.1 353.6,69.3 355.5,62.8 356,50 356.5,30.3 358.5,29.3 362.5,27.8 369.2,26.7 385.7,24.1 402.7,23.5" fill="none" stroke="#FF0000" stroke-width="3.0" stroke-linecap="butt" stroke-linejoin="round"/>
<circle cx="160.2" cy="269.3" r="2.95" fill="#fff" stroke="#FF0000" stroke-width="1.15"/>
<circle cx="176.9" cy="254.6" r="2.95" fill="#fff" stroke="#FF0000" stroke-width="1.15"/>
<circle cx="194" cy="239.9" r="2.95" fill="#fff" stroke="#FF0000" stroke-width="1.15"/>
<circle cx="210.6" cy="225.2" r="2.95" fill="#fff" stroke="#FF0000" stroke-width="1.15"/>
<circle cx="227.2" cy="210.7" r="2.95" fill="#fff" stroke="#FF0000" stroke-width="1.15"/>
<circle cx="243.9" cy="196.3" r="2.95" fill="#fff" stroke="#FF0000" stroke-width="1.15"/>
<circle cx="260" cy="181.8" r="2.95" fill="#fff" stroke="#FF0000" stroke-width="1.15"/>
<circle cx="277" cy="167" r="2.95" fill="#fff" stroke="#FF0000" stroke-width="1.15"/>
<circle cx="293.8" cy="151.5" r="2.95" fill="#fff" stroke="#FF0000" stroke-width="1.15"/>
<circle cx="303.1" cy="142.2" r="2.95" fill="#fff" stroke="#FF0000" stroke-width="1.15"/>
<circle cx="304.7" cy="140.5" r="2.95" fill="#fff" stroke="#FF0000" stroke-width="1.15"/>
<circle cx="306.4" cy="138.8" r="2.95" fill="#fff" stroke="#FF0000" stroke-width="1.15"/>
<circle cx="308" cy="137.1" r="2.95" fill="#fff" stroke="#FF0000" stroke-width="1.15"/>
<circle cx="309.6" cy="135.4" r="2.95" fill="#fff" stroke="#FF0000" stroke-width="1.15"/>
<circle cx="319" cy="124.6" r="2.95" fill="#fff" stroke="#FF0000" stroke-width="1.15"/>
<circle cx="335.7" cy="104.1" r="2.95" fill="#fff" stroke="#FF0000" stroke-width="1.15"/>
<circle cx="350.7" cy="78" r="2.95" fill="#fff" stroke="#FF0000" stroke-width="1.15"/>
<circle cx="352.1" cy="74.1" r="2.95" fill="#fff" stroke="#FF0000" stroke-width="1.15"/>
<circle cx="353.6" cy="69.3" r="2.95" fill="#fff" stroke="#FF0000" stroke-width="1.15"/>
<circle cx="355.5" cy="62.8" r="2.95" fill="#fff" stroke="#FF0000" stroke-width="1.15"/>
<circle cx="356.5" cy="30.3" r="2.95" fill="#fff" stroke="#FF0000" stroke-width="1.15"/>
<circle cx="358" cy="29.6" r="2.95" fill="#fff" stroke="#FF0000" stroke-width="1.15"/>
<circle cx="359.5" cy="28.9" r="2.95" fill="#fff" stroke="#FF0000" stroke-width="1.15"/>
<circle cx="361" cy="28.4" r="2.95" fill="#fff" stroke="#FF0000" stroke-width="1.15"/>
<circle cx="362.5" cy="27.8" r="2.95" fill="#fff" stroke="#FF0000" stroke-width="1.15"/>
<circle cx="369.2" cy="26.7" r="2.95" fill="#fff" stroke="#FF0000" stroke-width="1.15"/>
<circle cx="385.7" cy="24.1" r="2.95" fill="#fff" stroke="#FF0000" stroke-width="1.15"/>
<circle cx="402.7" cy="23.5" r="2.95" fill="#fff" stroke="#FF0000" stroke-width="1.15"/>
</g>
<rect x="68.5" y="6.6" width="334.1" height="271.2" fill="none" stroke="#000" stroke-width="1.45"/>
<path d="M152.1 277.8v-6.3M152.1 6.6v6.3M235.7 277.8v-6.3M235.7 6.6v6.3M319.4 277.8v-6.3M319.4 6.6v6.3M110.3 277.8v-3.4M110.3 6.6v3.4M193.9 277.8v-3.4M193.9 6.6v3.4M277.6 277.8v-3.4M277.6 6.6v3.4M361.2 277.8v-3.4M361.2 6.6v3.4M68.5 115h6.3M402.6 115h-6.3M68.5 223.7h6.3M402.6 223.7h-6.3M68.5 60.7h3.4M402.6 60.7h-3.4M68.5 169.4h3.4M402.6 169.4h-3.4" stroke="#000" stroke-width="0.9" fill="none"/>
<text x="64.8" y="297.3" font-size="22" text-anchor="middle" >2.7</text>
<text x="148.4" y="297.3" font-size="22" text-anchor="middle" >2.8</text>
<text x="232" y="297.3" font-size="22" text-anchor="middle" >2.9</text>
<text x="315.7" y="297.3" font-size="22" text-anchor="middle" >3</text>
<text x="399.3" y="297.3" font-size="22" text-anchor="middle" >3.1</text>
<text x="66.2" y="13.7" font-size="22" text-anchor="end" >1</text>
<text x="66.2" y="122.4" font-size="22" text-anchor="end" >0.9</text>
<text x="66.2" y="231.1" font-size="22" text-anchor="end" >0.8</text>
<text x="231.7" y="316.1" font-size="21" text-anchor="middle" >M</text>
<text x="73.5" y="22.9" font-size="17.2" text-anchor="start" >(a)</text>
<polyline points="323.5,152.4 342.7,152.4" fill="none" stroke="#0000FF" stroke-width="3.0" stroke-linecap="butt" stroke-linejoin="round"/>
<circle cx="323.5" cy="152.4" r="2.95" fill="#fff" stroke="#0000FF" stroke-width="1.15"/>
<circle cx="342.7" cy="152.4" r="2.95" fill="#fff" stroke="#0000FF" stroke-width="1.15"/>
<text x="352.6" y="158" font-size="17.2" text-anchor="start" >U=5.5</text>
<polyline points="323.5,171 342.7,171" fill="none" stroke="#2A00D4" stroke-width="3.0" stroke-linecap="butt" stroke-linejoin="round"/>
<rect x="320.75" y="168.25" width="5.50" height="5.50" fill="#fff" stroke="#2A00D4" stroke-width="1.15"/>
<rect x="339.95" y="168.25" width="5.50" height="5.50" fill="#fff" stroke="#2A00D4" stroke-width="1.15"/>
<text x="352.6" y="176.6" font-size="17.2" text-anchor="start" >U=5.9</text>
<polyline points="323.5,189.3 342.7,189.3" fill="none" stroke="#5500AA" stroke-width="3.0" stroke-linecap="butt" stroke-linejoin="round"/>
<path d="M320.60 189.30L323.50 186.40L326.40 189.30L323.50 192.20Z" fill="#fff" stroke="#5500AA" stroke-width="1.15"/>
<path d="M339.80 189.30L342.70 186.40L345.60 189.30L342.70 192.20Z" fill="#fff" stroke="#5500AA" stroke-width="1.15"/>
<text x="352.6" y="194.9" font-size="17.2" text-anchor="start" >U=6.0</text>
<polyline points="323.5,207.7 342.7,207.7" fill="none" stroke="#800080" stroke-width="3.0" stroke-linecap="butt" stroke-linejoin="round"/>
<path d="M320.44 209.81L326.56 209.81L323.50 204.64Z" fill="#fff" stroke="#800080" stroke-width="1.15"/>
<path d="M339.64 209.81L345.76 209.81L342.70 204.64Z" fill="#fff" stroke="#800080" stroke-width="1.15"/>
<text x="352.6" y="213.3" font-size="17.2" text-anchor="start" >U=6.1</text>
<polyline points="323.5,226.3 342.7,226.3" fill="none" stroke="#AA0055" stroke-width="3.0" stroke-linecap="butt" stroke-linejoin="round"/>
<path d="M320.60 226.30L323.50 223.40L326.40 226.30L323.50 229.20Z" fill="#fff" stroke="#AA0055" stroke-width="1.15"/>
<path d="M339.80 226.30L342.70 223.40L345.60 226.30L342.70 229.20Z" fill="#fff" stroke="#AA0055" stroke-width="1.15"/>
<text x="352.6" y="231.9" font-size="17.2" text-anchor="start" >U=6.2</text>
<polyline points="323.5,244.6 342.7,244.6" fill="none" stroke="#D4002A" stroke-width="3.0" stroke-linecap="butt" stroke-linejoin="round"/>
<rect x="320.75" y="241.85" width="5.50" height="5.50" fill="#fff" stroke="#D4002A" stroke-width="1.15"/>
<rect x="339.95" y="241.85" width="5.50" height="5.50" fill="#fff" stroke="#D4002A" stroke-width="1.15"/>
<text x="352.6" y="250.2" font-size="17.2" text-anchor="start" >U=6.3</text>
<polyline points="323.5,263 342.7,263" fill="none" stroke="#FF0000" stroke-width="3.0" stroke-linecap="butt" stroke-linejoin="round"/>
<circle cx="323.5" cy="263" r="2.95" fill="#fff" stroke="#FF0000" stroke-width="1.15"/>
<circle cx="342.7" cy="263" r="2.95" fill="#fff" stroke="#FF0000" stroke-width="1.15"/>
<text x="352.6" y="268.6" font-size="17.2" text-anchor="start" >U=6.8</text>
<g transform="translate(14.4,142.1) rotate(-90)">
<path d="M-17.3 -14.5L-22.7 0L-17.3 14.5" fill="none" stroke="#000" stroke-width="1.3"/>
<path d="M17.3 -14.5L22.7 0L17.3 14.5" fill="none" stroke="#000" stroke-width="1.3"/>
<text transform="translate(-7.0,7.2) scale(1.12,1)" text-anchor="middle" font-size="30.5" font-style="italic">T</text><text transform="translate(7.9,12.4) scale(1.2,1.05)" text-anchor="middle" font-size="21" font-style="italic">z</text>
</g>
</g>
<g id="pb">
<line x1="650.7" y1="6.6" x2="650.7" y2="278.3" stroke="#7f7f7f" stroke-width="1.3" stroke-dasharray="8.9 4.5" stroke-dashoffset="0"/>
<polyline points="482.9,252.9 516.1,250.5 531.8,246.9 541.4,239.6 549.9,232.4 555.2,224 557.6,223.5 560.7,238.4 563.9,250.5 566.3,261.3 572.8,264.9 583.6,269.8 600.5,274.1 624.6,275.8 648.7,276.1 700,275.3 740,274.4 788,274.4 817,275.2" fill="none" stroke="#0000FF" stroke-width="3.2" stroke-linecap="butt" stroke-linejoin="round"/>
<polyline points="482.9,256.5 552.3,255.3 576.4,249.3 586,246.9 590.8,243.3 599.3,240.8 604.1,232.4 607.7,228.8 613.7,224 616.1,202.3 617.8,167.3 619.8,167.3 621,202.3 622.7,231.2 625.8,255.3 630.6,267.3 635.4,271 648.7,274.6 680,276.5 817,277.2" fill="none" stroke="#2A00D4" stroke-width="3.2" stroke-linecap="butt" stroke-linejoin="round"/>
<polyline points="482.9,256.3 576.4,252.9 600.5,245.7 614.9,239.6 622.2,236 630.6,221.6 632.3,190.2 633.5,126.8 634.9,126.8 636.6,190.2 637.8,226.4 641.4,250.5 646.3,264.9 651.1,272.2 663.1,275.8 700,277 817,277.3" fill="none" stroke="#5500AA" stroke-width="3.2" stroke-linecap="butt" stroke-linejoin="round"/>
<polyline points="482.9,256 560,254.5 600.5,250.5 624.6,238.4 639,227.6 646.3,219.2 648.7,190.2 650,74.5 651.2,74.5 653,190.2 654,238.4 657.1,262.5 663.1,268.6 680,272.2 700,275 740,277 817,277.3" fill="none" stroke="#800080" stroke-width="3.2" stroke-linecap="butt" stroke-linejoin="round"/>
<polyline points="482.9,255.5 580,254.5 610.1,252.9 636.6,243.3 653.5,233.6 660.7,226.4 663.6,202.3 665.7,139" fill="none" stroke="#AA0055" stroke-width="3.2" stroke-linecap="butt" stroke-linejoin="round"/>
<polyline points="668.6,211.9 669.8,238.4 672.2,261.3 678.2,269.8 692.7,274.6 730,277 800,277.5 808.3,277 816.7,268.6" fill="none" stroke="#AA0055" stroke-width="3.2" stroke-linecap="butt" stroke-linejoin="round"/>
<polyline points="482.9,255 600,253.5 630,248.1 654.1,240.8 666.1,237.2 673.4,231.2 678.2,219.2 680.6,202.3 681.8,181.8" fill="none" stroke="#D4002A" stroke-width="3.2" stroke-linecap="butt" stroke-linejoin="round"/>
<polyline points="684.2,198.7 685.4,226.4 686.6,250.5 689,262.5 695.1,268.6 702.3,272.2 721.6,275.3 760,277 817,277.5" fill="none" stroke="#D4002A" stroke-width="3.2" stroke-linecap="butt" stroke-linejoin="round"/>
<polyline points="482.9,249.9 600,251.3 699.9,252.4 709.5,249.3 720.4,247.3 726.4,243.3 733.6,241.3 740.8,239.6 749.3,234.8 757.7,226.4 764.9,215.5 767.3,207.1 769.8,192.2" fill="none" stroke="#FF0000" stroke-width="3.2" stroke-linecap="butt" stroke-linejoin="round"/>
<polyline points="772.2,266.1 774.1,269.8 781.8,271.7 789,272.2 791.9,271 798.7,273.9 808.3,276.5 816.7,276.5" fill="none" stroke="#FF0000" stroke-width="3.2" stroke-linecap="butt" stroke-linejoin="round"/>
<rect x="482.7" y="6.6" width="334.7" height="271.7" fill="none" stroke="#000" stroke-width="1.45"/>
<path d="M566.4 278.3v-6.3M566.4 6.6v6.3M650.1 278.3v-6.3M650.1 6.6v6.3M733.8 278.3v-6.3M733.8 6.6v6.3M524.5 278.3v-3.4M524.5 6.6v3.4M608.2 278.3v-3.4M608.2 6.6v3.4M692 278.3v-3.4M692 6.6v3.4M775.6 278.3v-3.4M775.6 6.6v3.4M482.7 239.5h6.3M817.4 239.5h-6.3M482.7 200.6h6.3M817.4 200.6h-6.3M482.7 161.8h6.3M817.4 161.8h-6.3M482.7 122.9h6.3M817.4 122.9h-6.3M482.7 84.1h6.3M817.4 84.1h-6.3M482.7 45.3h6.3M817.4 45.3h-6.3M482.7 258.9h3.4M817.4 258.9h-3.4M482.7 220h3.4M817.4 220h-3.4M482.7 181.2h3.4M817.4 181.2h-3.4M482.7 142.4h3.4M817.4 142.4h-3.4M482.7 103.5h3.4M817.4 103.5h-3.4M482.7 64.7h3.4M817.4 64.7h-3.4M482.7 25.8h3.4M817.4 25.8h-3.4" stroke="#000" stroke-width="0.9" fill="none"/>
<text x="483" y="297.3" font-size="22" text-anchor="middle" >2.7</text>
<text x="566.7" y="297.3" font-size="22" text-anchor="middle" >2.8</text>
<text x="650.4" y="297.3" font-size="22" text-anchor="middle" >2.9</text>
<text x="734.1" y="297.3" font-size="22" text-anchor="middle" >3</text>
<text x="817.8" y="297.3" font-size="22" text-anchor="middle" >3.1</text>
<text x="479.3" y="246.9" font-size="22" text-anchor="end" >1</text>
<text x="479.3" y="208" font-size="22" text-anchor="end" >2</text>
<text x="479.3" y="169.2" font-size="22" text-anchor="end" >3</text>
<text x="479.3" y="130.3" font-size="22" text-anchor="end" >4</text>
<text x="479.3" y="91.5" font-size="22" text-anchor="end" >5</text>
<text x="479.3" y="52.7" font-size="22" text-anchor="end" >6</text>
<text x="649" y="316.1" font-size="21" text-anchor="middle" >M</text>
<text x="489.1" y="24" font-size="17.2" text-anchor="start" >(b)</text>
<g transform="translate(442.4,140.5) rotate(-90)" fill="none" stroke="#000" stroke-linecap="round" stroke-linejoin="round">
<path d="M3.6,-18.2 L5.6,-18.6 L1.2,-0.6" stroke-width="2.7" stroke-linecap="butt"/>
<path d="M3.4,-10.2 C8,-10.8 12.5,-13 16,-15.8" stroke-width="1.2"/>
<circle cx="16.6" cy="-15.9" r="1.7" fill="#000" stroke="none"/>
<path d="M5.5,-10.9 C8.6,-10.8 10.4,-9.2 11.4,-6.6 C12.4,-3.8 13.4,-1.4 15.8,-1.1 C17.4,-0.9 18.5,-2 19,-3.4" stroke-width="2.0"/>
</g>
</g>
<g id="pc">
<line x1="237.4" y1="324.6" x2="237.4" y2="596" stroke="#7f7f7f" stroke-width="1.3" stroke-dasharray="8.8 4.45" stroke-dashoffset="0"/>
<g>
<polyline points="68.4,459.2 85.1,466.4 118.6,486.9 135.9,507.8 138.5,513 141,519.5 144.5,528 147.5,535 151.6,542 168.9,558.4 202.2,572.4 235.4,582 268.9,587.3 285.1,591 289.9,596" fill="none" stroke="#0000FF" stroke-width="3.0" stroke-linecap="butt" stroke-linejoin="round"/>
<polyline points="68.4,430.4 85.1,434.9 118.6,445.3 139.5,453 148,457.3 156.4,461.2 164.3,466 172.5,471.7 181.2,478.4 186.5,483.3 194,493 201.4,505.9 204.6,522.3 206.5,531.2 210.6,541.6 214.9,547.6 223.4,555.3 231.6,561.3 268.2,572.9 292.3,580.1 319.5,589 338.1,595.8" fill="none" stroke="#2A00D4" stroke-width="3.0" stroke-linecap="butt" stroke-linejoin="round"/>
<polyline points="68.4,423.6 110,436 151.6,448.9 185.3,466.6 202.2,481.3 210.6,489 216.6,501.8 219,509 220.2,522.3 222.7,531.9 226.3,541.1 231.1,548.8 238.3,556 245.5,560.8 252.8,564.5 261,568.1 268.2,571.7 277.1,577 292.3,581.3 316.4,588.6 335.7,594.1 342,596" fill="none" stroke="#5500AA" stroke-width="3.0" stroke-linecap="butt" stroke-linejoin="round"/>
<polyline points="151.6,439.8 194,458.2 209.4,469.3 217.8,477.7 228.7,491 233.5,500.6 235.9,509 236.7,521.1 238,531.9 240.7,541.6 245.5,548.8 252.8,554.8 261,562 276.6,569.3 285.1,572.9 294.7,576.5 303.1,578.4 311.6,579.4 328.4,582 345.3,584.5 361,589 377.8,594 383,596" fill="none" stroke="#800080" stroke-width="3.0" stroke-linecap="butt" stroke-linejoin="round"/>
<polyline points="68.4,409.6 110,420.5 151.6,432 168.4,438.1 185.3,444.6 202.2,452 219,461.5 235.8,475 245.4,487.3 249,494.6 251.8,503.3 252.6,515 253.1,528.3 255.5,536.7 259.8,545.2 268.2,556 277.8,564.5 294.7,572.9 311.6,578.9 328.4,581.3 345.3,583 361,587.3 377.8,592.7 393.5,595.8" fill="none" stroke="#AA0055" stroke-width="3.0" stroke-linecap="butt" stroke-linejoin="round"/>
<polyline points="68.4,403.1 101.7,410.8 135.4,419.8 160.2,426.7 176.9,432.5 194,438.3 210.6,444.8 227.2,453.3 243.8,464.3 252.6,472.9 256,476 259.8,480 262.2,484 264.6,488.5 267,494.6 268.9,501.3 269.5,515 269.9,533.1 271.8,539.2 276,545.5 280,551.5 284.6,556 294.2,563.3 303.1,567.6 305.5,569.3 310.4,574.1 319.5,577 335.7,581.3 352.5,583.7 369.4,586.1 386.3,589.8 403.1,592.9" fill="none" stroke="#D4002A" stroke-width="3.0" stroke-linecap="butt" stroke-linejoin="round"/>
<circle cx="85.1" cy="466.4" r="2.95" fill="#fff" stroke="#0000FF" stroke-width="1.15"/>
<circle cx="118.6" cy="486.9" r="2.95" fill="#fff" stroke="#0000FF" stroke-width="1.15"/>
<circle cx="135.9" cy="507.8" r="2.95" fill="#fff" stroke="#0000FF" stroke-width="1.15"/>
<circle cx="137.8" cy="511.5" r="2.95" fill="#fff" stroke="#0000FF" stroke-width="1.15"/>
<circle cx="139.4" cy="515.4" r="2.95" fill="#fff" stroke="#0000FF" stroke-width="1.15"/>
<circle cx="140.9" cy="519.3" r="2.95" fill="#fff" stroke="#0000FF" stroke-width="1.15"/>
<circle cx="142.5" cy="523.2" r="2.95" fill="#fff" stroke="#0000FF" stroke-width="1.15"/>
<circle cx="144.1" cy="527.1" r="2.95" fill="#fff" stroke="#0000FF" stroke-width="1.15"/>
<circle cx="145.7" cy="530.9" r="2.95" fill="#fff" stroke="#0000FF" stroke-width="1.15"/>
<circle cx="147.4" cy="534.8" r="2.95" fill="#fff" stroke="#0000FF" stroke-width="1.15"/>
<circle cx="149.5" cy="538.4" r="2.95" fill="#fff" stroke="#0000FF" stroke-width="1.15"/>
<circle cx="151.6" cy="542" r="2.95" fill="#fff" stroke="#0000FF" stroke-width="1.15"/>
<circle cx="168.9" cy="558.4" r="2.95" fill="#fff" stroke="#0000FF" stroke-width="1.15"/>
<circle cx="202.2" cy="572.4" r="2.95" fill="#fff" stroke="#0000FF" stroke-width="1.15"/>
<circle cx="235.4" cy="582" r="2.95" fill="#fff" stroke="#0000FF" stroke-width="1.15"/>
<circle cx="268.9" cy="587.3" r="2.95" fill="#fff" stroke="#0000FF" stroke-width="1.15"/>
<rect x="82.35" y="432.15" width="5.50" height="5.50" fill="#fff" stroke="#2A00D4" stroke-width="1.15"/>
<rect x="115.85" y="442.55" width="5.50" height="5.50" fill="#fff" stroke="#2A00D4" stroke-width="1.15"/>
<rect x="136.75" y="450.25" width="5.50" height="5.50" fill="#fff" stroke="#2A00D4" stroke-width="1.15"/>
<rect x="145.25" y="454.55" width="5.50" height="5.50" fill="#fff" stroke="#2A00D4" stroke-width="1.15"/>
<rect x="153.65" y="458.45" width="5.50" height="5.50" fill="#fff" stroke="#2A00D4" stroke-width="1.15"/>
<rect x="161.55" y="463.25" width="5.50" height="5.50" fill="#fff" stroke="#2A00D4" stroke-width="1.15"/>
<rect x="169.75" y="468.95" width="5.50" height="5.50" fill="#fff" stroke="#2A00D4" stroke-width="1.15"/>
<rect x="178.45" y="475.65" width="5.50" height="5.50" fill="#fff" stroke="#2A00D4" stroke-width="1.15"/>
<rect x="183.75" y="480.55" width="5.50" height="5.50" fill="#fff" stroke="#2A00D4" stroke-width="1.15"/>
<rect x="186.12" y="483.62" width="5.50" height="5.50" fill="#fff" stroke="#2A00D4" stroke-width="1.15"/>
<rect x="188.49" y="486.68" width="5.50" height="5.50" fill="#fff" stroke="#2A00D4" stroke-width="1.15"/>
<rect x="190.86" y="489.75" width="5.50" height="5.50" fill="#fff" stroke="#2A00D4" stroke-width="1.15"/>
<rect x="192.86" y="493.06" width="5.50" height="5.50" fill="#fff" stroke="#2A00D4" stroke-width="1.15"/>
<rect x="194.79" y="496.43" width="5.50" height="5.50" fill="#fff" stroke="#2A00D4" stroke-width="1.15"/>
<rect x="196.72" y="499.79" width="5.50" height="5.50" fill="#fff" stroke="#2A00D4" stroke-width="1.15"/>
<rect x="198.65" y="503.15" width="5.50" height="5.50" fill="#fff" stroke="#2A00D4" stroke-width="1.15"/>
<rect x="203.75" y="528.45" width="5.50" height="5.50" fill="#fff" stroke="#2A00D4" stroke-width="1.15"/>
<rect x="212.15" y="544.85" width="5.50" height="5.50" fill="#fff" stroke="#2A00D4" stroke-width="1.15"/>
<rect x="220.65" y="552.55" width="5.50" height="5.50" fill="#fff" stroke="#2A00D4" stroke-width="1.15"/>
<rect x="228.85" y="558.55" width="5.50" height="5.50" fill="#fff" stroke="#2A00D4" stroke-width="1.15"/>
<rect x="316.75" y="586.25" width="5.50" height="5.50" fill="#fff" stroke="#2A00D4" stroke-width="1.15"/>
<path d="M148.70 448.90L151.60 446.00L154.50 448.90L151.60 451.80Z" fill="#fff" stroke="#5500AA" stroke-width="1.15"/>
<path d="M182.40 466.60L185.30 463.70L188.20 466.60L185.30 469.50Z" fill="#fff" stroke="#5500AA" stroke-width="1.15"/>
<path d="M207.70 489.00L210.60 486.10L213.50 489.00L210.60 491.90Z" fill="#fff" stroke="#5500AA" stroke-width="1.15"/>
<path d="M209.54 492.93L212.44 490.03L215.34 492.93L212.44 495.83Z" fill="#fff" stroke="#5500AA" stroke-width="1.15"/>
<path d="M211.39 496.87L214.29 493.97L217.19 496.87L214.29 499.77Z" fill="#fff" stroke="#5500AA" stroke-width="1.15"/>
<path d="M213.23 500.80L216.13 497.90L219.03 500.80L216.13 503.70Z" fill="#fff" stroke="#5500AA" stroke-width="1.15"/>
<path d="M214.73 504.88L217.63 501.98L220.53 504.88L217.63 507.78Z" fill="#fff" stroke="#5500AA" stroke-width="1.15"/>
<path d="M216.10 509.00L219.00 506.10L221.90 509.00L219.00 511.90Z" fill="#fff" stroke="#5500AA" stroke-width="1.15"/>
<path d="M217.30 522.30L220.20 519.40L223.10 522.30L220.20 525.20Z" fill="#fff" stroke="#5500AA" stroke-width="1.15"/>
<path d="M219.80 531.90L222.70 529.00L225.60 531.90L222.70 534.80Z" fill="#fff" stroke="#5500AA" stroke-width="1.15"/>
<path d="M221.23 535.57L224.13 532.67L227.03 535.57L224.13 538.47Z" fill="#fff" stroke="#5500AA" stroke-width="1.15"/>
<path d="M222.67 539.23L225.57 536.33L228.47 539.23L225.57 542.13Z" fill="#fff" stroke="#5500AA" stroke-width="1.15"/>
<path d="M224.42 542.74L227.32 539.84L230.22 542.74L227.32 545.64Z" fill="#fff" stroke="#5500AA" stroke-width="1.15"/>
<path d="M226.50 546.08L229.40 543.18L232.30 546.08L229.40 548.98Z" fill="#fff" stroke="#5500AA" stroke-width="1.15"/>
<path d="M228.71 549.31L231.61 546.41L234.51 549.31L231.61 552.21Z" fill="#fff" stroke="#5500AA" stroke-width="1.15"/>
<path d="M231.50 552.10L234.40 549.20L237.30 552.10L234.40 555.00Z" fill="#fff" stroke="#5500AA" stroke-width="1.15"/>
<path d="M234.28 554.88L237.18 551.98L240.08 554.88L237.18 557.78Z" fill="#fff" stroke="#5500AA" stroke-width="1.15"/>
<path d="M237.36 557.31L240.26 554.41L243.16 557.31L240.26 560.21Z" fill="#fff" stroke="#5500AA" stroke-width="1.15"/>
<path d="M240.63 559.49L243.53 556.59L246.43 559.49L243.53 562.39Z" fill="#fff" stroke="#5500AA" stroke-width="1.15"/>
<path d="M244.00 561.51L246.90 558.61L249.80 561.51L246.90 564.41Z" fill="#fff" stroke="#5500AA" stroke-width="1.15"/>
<path d="M247.51 563.29L250.41 560.39L253.31 563.29L250.41 566.19Z" fill="#fff" stroke="#5500AA" stroke-width="1.15"/>
<path d="M251.05 565.01L253.95 562.11L256.85 565.01L253.95 567.91Z" fill="#fff" stroke="#5500AA" stroke-width="1.15"/>
<path d="M254.66 566.59L257.56 563.69L260.46 566.59L257.56 569.49Z" fill="#fff" stroke="#5500AA" stroke-width="1.15"/>
<path d="M258.26 568.18L261.16 565.28L264.06 568.18L261.16 571.08Z" fill="#fff" stroke="#5500AA" stroke-width="1.15"/>
<path d="M261.78 569.94L264.68 567.04L267.58 569.94L264.68 572.84Z" fill="#fff" stroke="#5500AA" stroke-width="1.15"/>
<path d="M265.30 571.70L268.20 568.80L271.10 571.70L268.20 574.60Z" fill="#fff" stroke="#5500AA" stroke-width="1.15"/>
<path d="M274.20 577.00L277.10 574.10L280.00 577.00L277.10 579.90Z" fill="#fff" stroke="#5500AA" stroke-width="1.15"/>
<path d="M148.54 441.91L154.66 441.91L151.60 436.74Z" fill="#fff" stroke="#800080" stroke-width="1.15"/>
<path d="M190.94 460.31L197.06 460.31L194.00 455.14Z" fill="#fff" stroke="#800080" stroke-width="1.15"/>
<path d="M214.74 479.81L220.86 479.81L217.80 474.64Z" fill="#fff" stroke="#800080" stroke-width="1.15"/>
<path d="M215.67 480.94L221.79 480.94L218.73 475.77Z" fill="#fff" stroke="#800080" stroke-width="1.15"/>
<path d="M216.60 482.08L222.72 482.08L219.66 476.91Z" fill="#fff" stroke="#800080" stroke-width="1.15"/>
<path d="M217.53 483.21L223.65 483.21L220.59 478.04Z" fill="#fff" stroke="#800080" stroke-width="1.15"/>
<path d="M218.46 484.35L224.58 484.35L221.52 479.18Z" fill="#fff" stroke="#800080" stroke-width="1.15"/>
<path d="M219.39 485.48L225.51 485.48L222.45 480.31Z" fill="#fff" stroke="#800080" stroke-width="1.15"/>
<path d="M220.32 486.61L226.44 486.61L223.38 481.45Z" fill="#fff" stroke="#800080" stroke-width="1.15"/>
<path d="M221.25 487.75L227.37 487.75L224.31 482.58Z" fill="#fff" stroke="#800080" stroke-width="1.15"/>
<path d="M222.18 488.88L228.30 488.88L225.24 483.71Z" fill="#fff" stroke="#800080" stroke-width="1.15"/>
<path d="M223.11 490.02L229.23 490.02L226.17 484.85Z" fill="#fff" stroke="#800080" stroke-width="1.15"/>
<path d="M224.04 491.15L230.16 491.15L227.10 485.98Z" fill="#fff" stroke="#800080" stroke-width="1.15"/>
<path d="M224.97 492.29L231.09 492.29L228.03 487.12Z" fill="#fff" stroke="#800080" stroke-width="1.15"/>
<path d="M225.82 493.47L231.94 493.47L228.88 488.30Z" fill="#fff" stroke="#800080" stroke-width="1.15"/>
<path d="M226.48 494.78L232.60 494.78L229.54 489.61Z" fill="#fff" stroke="#800080" stroke-width="1.15"/>
<path d="M227.13 496.09L233.25 496.09L230.19 490.92Z" fill="#fff" stroke="#800080" stroke-width="1.15"/>
<path d="M227.79 497.40L233.91 497.40L230.85 492.24Z" fill="#fff" stroke="#800080" stroke-width="1.15"/>
<path d="M228.44 498.72L234.56 498.72L231.50 493.55Z" fill="#fff" stroke="#800080" stroke-width="1.15"/>
<path d="M229.10 500.03L235.22 500.03L232.16 494.86Z" fill="#fff" stroke="#800080" stroke-width="1.15"/>
<path d="M229.76 501.34L235.88 501.34L232.82 496.17Z" fill="#fff" stroke="#800080" stroke-width="1.15"/>
<path d="M230.41 502.65L236.53 502.65L233.47 497.48Z" fill="#fff" stroke="#800080" stroke-width="1.15"/>
<path d="M230.83 504.06L236.95 504.06L233.89 498.89Z" fill="#fff" stroke="#800080" stroke-width="1.15"/>
<path d="M231.23 505.47L237.35 505.47L234.29 500.30Z" fill="#fff" stroke="#800080" stroke-width="1.15"/>
<path d="M231.63 506.88L237.75 506.88L234.69 501.71Z" fill="#fff" stroke="#800080" stroke-width="1.15"/>
<path d="M232.03 508.29L238.15 508.29L235.09 503.12Z" fill="#fff" stroke="#800080" stroke-width="1.15"/>
<path d="M232.44 509.70L238.56 509.70L235.50 504.53Z" fill="#fff" stroke="#800080" stroke-width="1.15"/>
<path d="M232.84 511.11L238.96 511.11L235.90 505.94Z" fill="#fff" stroke="#800080" stroke-width="1.15"/>
<path d="M233.64 523.21L239.76 523.21L236.70 518.04Z" fill="#fff" stroke="#800080" stroke-width="1.15"/>
<path d="M234.94 534.01L241.06 534.01L238.00 528.84Z" fill="#fff" stroke="#800080" stroke-width="1.15"/>
<path d="M237.64 543.71L243.76 543.71L240.70 538.54Z" fill="#fff" stroke="#800080" stroke-width="1.15"/>
<path d="M238.41 544.86L244.53 544.86L241.47 539.69Z" fill="#fff" stroke="#800080" stroke-width="1.15"/>
<path d="M239.17 546.01L245.29 546.01L242.23 540.84Z" fill="#fff" stroke="#800080" stroke-width="1.15"/>
<path d="M239.94 547.16L246.06 547.16L243.00 541.99Z" fill="#fff" stroke="#800080" stroke-width="1.15"/>
<path d="M240.71 548.31L246.83 548.31L243.77 543.14Z" fill="#fff" stroke="#800080" stroke-width="1.15"/>
<path d="M241.47 549.46L247.59 549.46L244.53 544.29Z" fill="#fff" stroke="#800080" stroke-width="1.15"/>
<path d="M242.24 550.61L248.36 550.61L245.30 545.44Z" fill="#fff" stroke="#800080" stroke-width="1.15"/>
<path d="M243.23 551.55L249.35 551.55L246.29 546.39Z" fill="#fff" stroke="#800080" stroke-width="1.15"/>
<path d="M244.29 552.43L250.41 552.43L247.35 547.26Z" fill="#fff" stroke="#800080" stroke-width="1.15"/>
<path d="M245.36 553.31L251.48 553.31L248.42 548.14Z" fill="#fff" stroke="#800080" stroke-width="1.15"/>
<path d="M246.43 554.19L252.55 554.19L249.49 549.02Z" fill="#fff" stroke="#800080" stroke-width="1.15"/>
<path d="M247.50 555.06L253.62 555.06L250.56 549.90Z" fill="#fff" stroke="#800080" stroke-width="1.15"/>
<path d="M248.56 555.94L254.68 555.94L251.62 550.77Z" fill="#fff" stroke="#800080" stroke-width="1.15"/>
<path d="M249.63 556.82L255.75 556.82L252.69 551.65Z" fill="#fff" stroke="#800080" stroke-width="1.15"/>
<path d="M250.67 557.73L256.79 557.73L253.73 552.56Z" fill="#fff" stroke="#800080" stroke-width="1.15"/>
<path d="M251.71 558.64L257.83 558.64L254.77 553.47Z" fill="#fff" stroke="#800080" stroke-width="1.15"/>
<path d="M252.75 559.55L258.87 559.55L255.81 554.38Z" fill="#fff" stroke="#800080" stroke-width="1.15"/>
<path d="M253.79 560.46L259.91 560.46L256.85 555.29Z" fill="#fff" stroke="#800080" stroke-width="1.15"/>
<path d="M254.83 561.37L260.95 561.37L257.89 556.21Z" fill="#fff" stroke="#800080" stroke-width="1.15"/>
<path d="M255.86 562.28L261.98 562.28L258.92 557.12Z" fill="#fff" stroke="#800080" stroke-width="1.15"/>
<path d="M256.90 563.20L263.02 563.20L259.96 558.03Z" fill="#fff" stroke="#800080" stroke-width="1.15"/>
<path d="M257.94 564.11L264.06 564.11L261.00 558.94Z" fill="#fff" stroke="#800080" stroke-width="1.15"/>
<path d="M262.73 566.35L268.85 566.35L265.79 561.18Z" fill="#fff" stroke="#800080" stroke-width="1.15"/>
<path d="M267.52 568.59L273.64 568.59L270.58 563.42Z" fill="#fff" stroke="#800080" stroke-width="1.15"/>
<path d="M272.32 570.84L278.44 570.84L275.38 565.67Z" fill="#fff" stroke="#800080" stroke-width="1.15"/>
<path d="M277.17 572.94L283.29 572.94L280.23 567.78Z" fill="#fff" stroke="#800080" stroke-width="1.15"/>
<path d="M282.04 575.01L288.16 575.01L285.10 569.84Z" fill="#fff" stroke="#800080" stroke-width="1.15"/>
<path d="M291.64 578.61L297.76 578.61L294.70 573.44Z" fill="#fff" stroke="#800080" stroke-width="1.15"/>
<path d="M300.04 580.51L306.16 580.51L303.10 575.34Z" fill="#fff" stroke="#800080" stroke-width="1.15"/>
<path d="M308.54 581.51L314.66 581.51L311.60 576.34Z" fill="#fff" stroke="#800080" stroke-width="1.15"/>
<path d="M316.94 579.61L323.06 579.61L320.00 574.44Z" fill="#fff" stroke="#800080" stroke-width="1.15"/>
<path d="M65.50 409.60L68.40 406.70L71.30 409.60L68.40 412.50Z" fill="#fff" stroke="#AA0055" stroke-width="1.15"/>
<path d="M148.70 432.00L151.60 429.10L154.50 432.00L151.60 434.90Z" fill="#fff" stroke="#AA0055" stroke-width="1.15"/>
<path d="M165.50 438.10L168.40 435.20L171.30 438.10L168.40 441.00Z" fill="#fff" stroke="#AA0055" stroke-width="1.15"/>
<path d="M182.40 444.60L185.30 441.70L188.20 444.60L185.30 447.50Z" fill="#fff" stroke="#AA0055" stroke-width="1.15"/>
<path d="M199.30 452.00L202.20 449.10L205.10 452.00L202.20 454.90Z" fill="#fff" stroke="#AA0055" stroke-width="1.15"/>
<path d="M216.10 461.50L219.00 458.60L221.90 461.50L219.00 464.40Z" fill="#fff" stroke="#AA0055" stroke-width="1.15"/>
<path d="M232.90 475.00L235.80 472.10L238.70 475.00L235.80 477.90Z" fill="#fff" stroke="#AA0055" stroke-width="1.15"/>
<path d="M242.50 487.30L245.40 484.40L248.30 487.30L245.40 490.20Z" fill="#fff" stroke="#AA0055" stroke-width="1.15"/>
<path d="M244.30 491.00L247.20 488.10L250.10 491.00L247.20 493.90Z" fill="#fff" stroke="#AA0055" stroke-width="1.15"/>
<path d="M246.10 494.60L249.00 491.70L251.90 494.60L249.00 497.50Z" fill="#fff" stroke="#AA0055" stroke-width="1.15"/>
<path d="M248.90 503.30L251.80 500.40L254.70 503.30L251.80 506.20Z" fill="#fff" stroke="#AA0055" stroke-width="1.15"/>
<path d="M250.20 528.30L253.10 525.40L256.00 528.30L253.10 531.20Z" fill="#fff" stroke="#AA0055" stroke-width="1.15"/>
<path d="M252.60 536.70L255.50 533.80L258.40 536.70L255.50 539.60Z" fill="#fff" stroke="#AA0055" stroke-width="1.15"/>
<path d="M253.93 539.33L256.83 536.43L259.73 539.33L256.83 542.23Z" fill="#fff" stroke="#AA0055" stroke-width="1.15"/>
<path d="M255.26 541.95L258.16 539.05L261.06 541.95L258.16 544.85Z" fill="#fff" stroke="#AA0055" stroke-width="1.15"/>
<path d="M256.59 544.58L259.49 541.68L262.39 544.58L259.49 547.48Z" fill="#fff" stroke="#AA0055" stroke-width="1.15"/>
<path d="M258.28 546.98L261.18 544.08L264.08 546.98L261.18 549.88Z" fill="#fff" stroke="#AA0055" stroke-width="1.15"/>
<path d="M260.09 549.30L262.99 546.40L265.89 549.30L262.99 552.20Z" fill="#fff" stroke="#AA0055" stroke-width="1.15"/>
<path d="M261.90 551.62L264.80 548.72L267.70 551.62L264.80 554.52Z" fill="#fff" stroke="#AA0055" stroke-width="1.15"/>
<path d="M263.70 553.95L266.60 551.05L269.50 553.95L266.60 556.85Z" fill="#fff" stroke="#AA0055" stroke-width="1.15"/>
<path d="M265.55 556.23L268.45 553.33L271.35 556.23L268.45 559.13Z" fill="#fff" stroke="#AA0055" stroke-width="1.15"/>
<path d="M267.73 558.22L270.63 555.32L273.53 558.22L270.63 561.12Z" fill="#fff" stroke="#AA0055" stroke-width="1.15"/>
<path d="M269.90 560.20L272.80 557.30L275.70 560.20L272.80 563.10Z" fill="#fff" stroke="#AA0055" stroke-width="1.15"/>
<path d="M278.40 565.20L281.30 562.30L284.20 565.20L281.30 568.10Z" fill="#fff" stroke="#AA0055" stroke-width="1.15"/>
<path d="M291.80 572.90L294.70 570.00L297.60 572.90L294.70 575.80Z" fill="#fff" stroke="#AA0055" stroke-width="1.15"/>
<path d="M308.70 578.90L311.60 576.00L314.50 578.90L311.60 581.80Z" fill="#fff" stroke="#AA0055" stroke-width="1.15"/>
<path d="M325.50 581.30L328.40 578.40L331.30 581.30L328.40 584.20Z" fill="#fff" stroke="#AA0055" stroke-width="1.15"/>
<path d="M342.40 583.00L345.30 580.10L348.20 583.00L345.30 585.90Z" fill="#fff" stroke="#AA0055" stroke-width="1.15"/>
<path d="M358.10 587.30L361.00 584.40L363.90 587.30L361.00 590.20Z" fill="#fff" stroke="#AA0055" stroke-width="1.15"/>
<path d="M374.90 592.70L377.80 589.80L380.70 592.70L377.80 595.60Z" fill="#fff" stroke="#AA0055" stroke-width="1.15"/>
<rect x="65.65" y="400.35" width="5.50" height="5.50" fill="#fff" stroke="#D4002A" stroke-width="1.15"/>
<rect x="98.95" y="408.05" width="5.50" height="5.50" fill="#fff" stroke="#D4002A" stroke-width="1.15"/>
<rect x="132.65" y="417.05" width="5.50" height="5.50" fill="#fff" stroke="#D4002A" stroke-width="1.15"/>
<rect x="157.45" y="423.95" width="5.50" height="5.50" fill="#fff" stroke="#D4002A" stroke-width="1.15"/>
<rect x="174.15" y="429.75" width="5.50" height="5.50" fill="#fff" stroke="#D4002A" stroke-width="1.15"/>
<rect x="191.25" y="435.55" width="5.50" height="5.50" fill="#fff" stroke="#D4002A" stroke-width="1.15"/>
<rect x="207.85" y="442.05" width="5.50" height="5.50" fill="#fff" stroke="#D4002A" stroke-width="1.15"/>
<rect x="224.45" y="450.55" width="5.50" height="5.50" fill="#fff" stroke="#D4002A" stroke-width="1.15"/>
<rect x="241.05" y="461.55" width="5.50" height="5.50" fill="#fff" stroke="#D4002A" stroke-width="1.15"/>
<rect x="249.85" y="470.15" width="5.50" height="5.50" fill="#fff" stroke="#D4002A" stroke-width="1.15"/>
<rect x="252.94" y="472.96" width="5.50" height="5.50" fill="#fff" stroke="#D4002A" stroke-width="1.15"/>
<rect x="255.83" y="475.97" width="5.50" height="5.50" fill="#fff" stroke="#D4002A" stroke-width="1.15"/>
<rect x="258.29" y="479.31" width="5.50" height="5.50" fill="#fff" stroke="#D4002A" stroke-width="1.15"/>
<rect x="260.35" y="482.94" width="5.50" height="5.50" fill="#fff" stroke="#D4002A" stroke-width="1.15"/>
<rect x="262.21" y="486.67" width="5.50" height="5.50" fill="#fff" stroke="#D4002A" stroke-width="1.15"/>
<rect x="263.74" y="490.56" width="5.50" height="5.50" fill="#fff" stroke="#D4002A" stroke-width="1.15"/>
<rect x="265.01" y="494.53" width="5.50" height="5.50" fill="#fff" stroke="#D4002A" stroke-width="1.15"/>
<rect x="266.15" y="498.55" width="5.50" height="5.50" fill="#fff" stroke="#D4002A" stroke-width="1.15"/>
<rect x="267.15" y="530.35" width="5.50" height="5.50" fill="#fff" stroke="#D4002A" stroke-width="1.15"/>
<rect x="269.05" y="536.45" width="5.50" height="5.50" fill="#fff" stroke="#D4002A" stroke-width="1.15"/>
<rect x="271.01" y="539.39" width="5.50" height="5.50" fill="#fff" stroke="#D4002A" stroke-width="1.15"/>
<rect x="272.97" y="542.33" width="5.50" height="5.50" fill="#fff" stroke="#D4002A" stroke-width="1.15"/>
<rect x="274.93" y="545.28" width="5.50" height="5.50" fill="#fff" stroke="#D4002A" stroke-width="1.15"/>
<rect x="276.90" y="548.22" width="5.50" height="5.50" fill="#fff" stroke="#D4002A" stroke-width="1.15"/>
<rect x="279.32" y="550.78" width="5.50" height="5.50" fill="#fff" stroke="#D4002A" stroke-width="1.15"/>
<rect x="281.85" y="553.25" width="5.50" height="5.50" fill="#fff" stroke="#D4002A" stroke-width="1.15"/>
<rect x="291.45" y="560.55" width="5.50" height="5.50" fill="#fff" stroke="#D4002A" stroke-width="1.15"/>
<rect x="300.35" y="564.85" width="5.50" height="5.50" fill="#fff" stroke="#D4002A" stroke-width="1.15"/>
<rect x="302.75" y="566.55" width="5.50" height="5.50" fill="#fff" stroke="#D4002A" stroke-width="1.15"/>
<rect x="305.25" y="568.75" width="5.50" height="5.50" fill="#fff" stroke="#D4002A" stroke-width="1.15"/>
<rect x="307.65" y="571.35" width="5.50" height="5.50" fill="#fff" stroke="#D4002A" stroke-width="1.15"/>
<rect x="316.75" y="574.25" width="5.50" height="5.50" fill="#fff" stroke="#D4002A" stroke-width="1.15"/>
<rect x="332.95" y="578.55" width="5.50" height="5.50" fill="#fff" stroke="#D4002A" stroke-width="1.15"/>
<rect x="349.75" y="580.95" width="5.50" height="5.50" fill="#fff" stroke="#D4002A" stroke-width="1.15"/>
<rect x="366.65" y="583.35" width="5.50" height="5.50" fill="#fff" stroke="#D4002A" stroke-width="1.15"/>
<rect x="383.55" y="587.05" width="5.50" height="5.50" fill="#fff" stroke="#D4002A" stroke-width="1.15"/>
<rect x="400.35" y="590.15" width="5.50" height="5.50" fill="#fff" stroke="#D4002A" stroke-width="1.15"/>
<polyline points="68.4,364.6 101.7,372.8 135.4,381.4 160.2,388.2 176.9,392.3 194,397.1 210.6,401.9 227.2,406.5 244,411.7 260.8,417.4 277.3,423.1 294.2,429.6 303.1,432.8 309.9,436.1 319.3,441.2 336,452.6 345.3,462 351.3,471.2 353,474.5 354.5,479 356.1,485.4 356.5,510 356.9,548.8 358.8,551.5 362.9,556.5 369.6,562.8 386.3,575.3 403.1,580.6" fill="none" stroke="#FF0000" stroke-width="3.0" stroke-linecap="butt" stroke-linejoin="round"/>
<circle cx="68.4" cy="364.6" r="2.95" fill="#fff" stroke="#FF0000" stroke-width="1.15"/>
<circle cx="101.7" cy="372.8" r="2.95" fill="#fff" stroke="#FF0000" stroke-width="1.15"/>
<circle cx="135.4" cy="381.4" r="2.95" fill="#fff" stroke="#FF0000" stroke-width="1.15"/>
<circle cx="160.2" cy="388.2" r="2.95" fill="#fff" stroke="#FF0000" stroke-width="1.15"/>
<circle cx="176.9" cy="392.3" r="2.95" fill="#fff" stroke="#FF0000" stroke-width="1.15"/>
<circle cx="194" cy="397.1" r="2.95" fill="#fff" stroke="#FF0000" stroke-width="1.15"/>
<circle cx="210.6" cy="401.9" r="2.95" fill="#fff" stroke="#FF0000" stroke-width="1.15"/>
<circle cx="227.2" cy="406.5" r="2.95" fill="#fff" stroke="#FF0000" stroke-width="1.15"/>
<circle cx="244" cy="411.7" r="2.95" fill="#fff" stroke="#FF0000" stroke-width="1.15"/>
<circle cx="260.8" cy="417.4" r="2.95" fill="#fff" stroke="#FF0000" stroke-width="1.15"/>
<circle cx="277.3" cy="423.1" r="2.95" fill="#fff" stroke="#FF0000" stroke-width="1.15"/>
<circle cx="294.2" cy="429.6" r="2.95" fill="#fff" stroke="#FF0000" stroke-width="1.15"/>
<circle cx="303.1" cy="432.8" r="2.95" fill="#fff" stroke="#FF0000" stroke-width="1.15"/>
<circle cx="304.8" cy="433.6" r="2.95" fill="#fff" stroke="#FF0000" stroke-width="1.15"/>
<circle cx="306.5" cy="434.5" r="2.95" fill="#fff" stroke="#FF0000" stroke-width="1.15"/>
<circle cx="308.2" cy="435.3" r="2.95" fill="#fff" stroke="#FF0000" stroke-width="1.15"/>
<circle cx="309.9" cy="436.1" r="2.95" fill="#fff" stroke="#FF0000" stroke-width="1.15"/>
<circle cx="319.3" cy="441.2" r="2.95" fill="#fff" stroke="#FF0000" stroke-width="1.15"/>
<circle cx="336" cy="452.6" r="2.95" fill="#fff" stroke="#FF0000" stroke-width="1.15"/>
<circle cx="351.3" cy="471.2" r="2.95" fill="#fff" stroke="#FF0000" stroke-width="1.15"/>
<circle cx="353" cy="474.5" r="2.95" fill="#fff" stroke="#FF0000" stroke-width="1.15"/>
<circle cx="354.5" cy="479" r="2.95" fill="#fff" stroke="#FF0000" stroke-width="1.15"/>
<circle cx="356.1" cy="485.4" r="2.95" fill="#fff" stroke="#FF0000" stroke-width="1.15"/>
<circle cx="356.9" cy="548.8" r="2.95" fill="#fff" stroke="#FF0000" stroke-width="1.15"/>
<circle cx="358.3" cy="550.8" r="2.95" fill="#fff" stroke="#FF0000" stroke-width="1.15"/>
<circle cx="359.8" cy="552.7" r="2.95" fill="#fff" stroke="#FF0000" stroke-width="1.15"/>
<circle cx="361.4" cy="554.6" r="2.95" fill="#fff" stroke="#FF0000" stroke-width="1.15"/>
<circle cx="362.9" cy="556.5" r="2.95" fill="#fff" stroke="#FF0000" stroke-width="1.15"/>
<circle cx="369.6" cy="562.8" r="2.95" fill="#fff" stroke="#FF0000" stroke-width="1.15"/>
<circle cx="386.3" cy="575.3" r="2.95" fill="#fff" stroke="#FF0000" stroke-width="1.15"/>
<circle cx="403.1" cy="580.6" r="2.95" fill="#fff" stroke="#FF0000" stroke-width="1.15"/>
</g>
<rect x="68.5" y="324.6" width="334.3" height="271.4" fill="none" stroke="#000" stroke-width="1.45"/>
<path d="M152.1 596v-6.3M152.1 324.6v6.3M235.7 596v-6.3M235.7 324.6v6.3M319.4 596v-6.3M319.4 324.6v6.3M110.3 596v-3.4M110.3 324.6v3.4M193.9 596v-3.4M193.9 324.6v3.4M277.6 596v-3.4M277.6 324.6v3.4M361.2 596v-3.4M361.2 324.6v3.4M68.5 585.3h6.3M402.8 585.3h-6.3M68.5 472h6.3M402.8 472h-6.3M68.5 358.7h6.3M402.8 358.7h-6.3M68.5 590.5h3.4M402.8 590.5h-3.4M68.5 551.2h3.4M402.8 551.2h-3.4M68.5 531.2h3.4M402.8 531.2h-3.4M68.5 517.1h3.4M402.8 517.1h-3.4M68.5 506.1h3.4M402.8 506.1h-3.4M68.5 497.1h3.4M402.8 497.1h-3.4M68.5 489.6h3.4M402.8 489.6h-3.4M68.5 483h3.4M402.8 483h-3.4M68.5 477.2h3.4M402.8 477.2h-3.4M68.5 437.9h3.4M402.8 437.9h-3.4M68.5 417.9h3.4M402.8 417.9h-3.4M68.5 403.8h3.4M402.8 403.8h-3.4M68.5 392.8h3.4M402.8 392.8h-3.4M68.5 383.8h3.4M402.8 383.8h-3.4M68.5 376.3h3.4M402.8 376.3h-3.4M68.5 369.7h3.4M402.8 369.7h-3.4M68.5 363.9h3.4M402.8 363.9h-3.4" stroke="#000" stroke-width="0.9" fill="none"/>
<text x="68.8" y="614.2" font-size="22" text-anchor="middle" >2.7</text>
<text x="152.4" y="614.2" font-size="22" text-anchor="middle" >2.8</text>
<text x="236" y="614.2" font-size="22" text-anchor="middle" >2.9</text>
<text x="319.7" y="614.2" font-size="22" text-anchor="middle" >3</text>
<text x="403.3" y="614.2" font-size="22" text-anchor="middle" >3.1</text>
<text x="66" y="479.4" font-size="22" text-anchor="end" >0.1</text>
<text x="66" y="592.7" font-size="22" text-anchor="end" >0.01</text>
<text x="237.5" y="634.2" font-size="21" text-anchor="middle" >M</text>
<text x="74.8" y="341.5" font-size="17.2" text-anchor="start" >(c)</text>
<g transform="translate(13,470) rotate(-90)"><text transform="translate(-20.8,-0.6) scale(1.1,0.9)" text-anchor="start" font-size="33" font-style="italic">χ</text><text x="-5.5" y="4.7" text-anchor="start" font-size="23.5">loc</text></g>
</g>
<g id="pd">
<polyline points="484.8,358.6 550.6,395.4 557.2,401.2 564,404.8 570.9,411 577.7,416.6 584.4,420.5 590.9,427.2 597.4,433.5 604.2,443 610.8,455.7 611.8,458.6 612.5,461" fill="none" stroke="#000000" stroke-width="1.8" stroke-linecap="butt" stroke-linejoin="round"/>
<polyline points="612.6,528 612.6,541.3 620.7,541.3 684.2,546.2 750.8,549.3 817.7,552.9" fill="none" stroke="#000000" stroke-width="1.8" stroke-linecap="butt" stroke-linejoin="round"/>
<circle cx="550.6" cy="395.4" r="3.15" fill="#fff" stroke="#000000" stroke-width="1.15"/>
<circle cx="557.2" cy="401.2" r="3.15" fill="#fff" stroke="#000000" stroke-width="1.15"/>
<circle cx="564" cy="404.8" r="3.15" fill="#fff" stroke="#000000" stroke-width="1.15"/>
<circle cx="570.9" cy="411" r="3.15" fill="#fff" stroke="#000000" stroke-width="1.15"/>
<circle cx="577.7" cy="416.6" r="3.15" fill="#fff" stroke="#000000" stroke-width="1.15"/>
<circle cx="584.4" cy="420.5" r="3.15" fill="#fff" stroke="#000000" stroke-width="1.15"/>
<circle cx="590.9" cy="427.2" r="3.15" fill="#fff" stroke="#000000" stroke-width="1.15"/>
<circle cx="597.4" cy="433.5" r="3.15" fill="#fff" stroke="#000000" stroke-width="1.15"/>
<circle cx="604.2" cy="443" r="3.15" fill="#fff" stroke="#000000" stroke-width="1.15"/>
<circle cx="610.8" cy="455.7" r="3.15" fill="#fff" stroke="#000000" stroke-width="1.15"/>
<circle cx="611.8" cy="458.6" r="3.15" fill="#fff" stroke="#000000" stroke-width="1.15"/>
<circle cx="612.5" cy="461" r="3.15" fill="#fff" stroke="#000000" stroke-width="1.15"/>
<circle cx="612.7" cy="541.3" r="3.15" fill="#000" stroke="#000000" stroke-width="1.15"/>
<circle cx="613.3" cy="541.3" r="3.15" fill="#000" stroke="#000000" stroke-width="1.15"/>
<circle cx="613.9" cy="541.3" r="3.15" fill="#000" stroke="#000000" stroke-width="1.15"/>
<circle cx="614.5" cy="541.3" r="3.15" fill="#000" stroke="#000000" stroke-width="1.15"/>
<circle cx="615.1" cy="541.3" r="3.15" fill="#000" stroke="#000000" stroke-width="1.15"/>
<circle cx="615.7" cy="541.3" r="3.15" fill="#000" stroke="#000000" stroke-width="1.15"/>
<circle cx="616.3" cy="541.3" r="3.15" fill="#000" stroke="#000000" stroke-width="1.15"/>
<circle cx="616.9" cy="541.3" r="3.15" fill="#000" stroke="#000000" stroke-width="1.15"/>
<circle cx="617.5" cy="541.3" r="3.15" fill="#000" stroke="#000000" stroke-width="1.15"/>
<circle cx="618.1" cy="541.3" r="3.15" fill="#000" stroke="#000000" stroke-width="1.15"/>
<circle cx="618.7" cy="541.3" r="3.15" fill="#000" stroke="#000000" stroke-width="1.15"/>
<circle cx="619.3" cy="541.3" r="3.15" fill="#000" stroke="#000000" stroke-width="1.15"/>
<circle cx="619.9" cy="541.3" r="3.15" fill="#000" stroke="#000000" stroke-width="1.15"/>
<circle cx="620.7" cy="541.3" r="3.15" fill="#fff" stroke="#000000" stroke-width="1.15"/>
<circle cx="684.2" cy="546.2" r="3.15" fill="#fff" stroke="#000000" stroke-width="1.15"/>
<circle cx="750.8" cy="549.3" r="3.15" fill="#fff" stroke="#000000" stroke-width="1.15"/>
<polyline points="484.8,350.6 550.6,378.3 557.2,383.4 564,388.9 570.9,394.2 577.7,399.3 584.4,404.5 590.9,411.3 597.4,419.4 604.2,429.5 610.8,442.4 611.8,445.7 612.5,449.6" fill="none" stroke="#FF0000" stroke-width="1.8" stroke-linecap="butt" stroke-linejoin="round"/>
<polyline points="614,526.2 620.7,525.8 684.2,530.4 817.7,536.4" fill="none" stroke="#FF0000" stroke-width="1.8" stroke-linecap="butt" stroke-linejoin="round"/>
<rect x="547.95" y="375.65" width="5.30" height="5.30" fill="#fff" stroke="#FF0000" stroke-width="1.15"/>
<rect x="554.55" y="380.75" width="5.30" height="5.30" fill="#fff" stroke="#FF0000" stroke-width="1.15"/>
<rect x="561.35" y="386.25" width="5.30" height="5.30" fill="#fff" stroke="#FF0000" stroke-width="1.15"/>
<rect x="568.25" y="391.55" width="5.30" height="5.30" fill="#fff" stroke="#FF0000" stroke-width="1.15"/>
<rect x="575.05" y="396.65" width="5.30" height="5.30" fill="#fff" stroke="#FF0000" stroke-width="1.15"/>
<rect x="581.75" y="401.85" width="5.30" height="5.30" fill="#fff" stroke="#FF0000" stroke-width="1.15"/>
<rect x="588.25" y="408.65" width="5.30" height="5.30" fill="#fff" stroke="#FF0000" stroke-width="1.15"/>
<rect x="594.75" y="416.75" width="5.30" height="5.30" fill="#fff" stroke="#FF0000" stroke-width="1.15"/>
<rect x="601.55" y="426.85" width="5.30" height="5.30" fill="#fff" stroke="#FF0000" stroke-width="1.15"/>
<rect x="608.15" y="439.75" width="5.30" height="5.30" fill="#fff" stroke="#FF0000" stroke-width="1.15"/>
<rect x="609.15" y="443.05" width="5.30" height="5.30" fill="#fff" stroke="#FF0000" stroke-width="1.15"/>
<rect x="609.85" y="446.95" width="5.30" height="5.30" fill="#fff" stroke="#FF0000" stroke-width="1.15"/>
<rect x="609.80" y="523.70" width="5.80" height="5.80" fill="#FF0000" stroke="#FF0000" stroke-width="1.0"/>
<rect x="610.40" y="523.70" width="5.80" height="5.80" fill="#FF0000" stroke="#FF0000" stroke-width="1.0"/>
<rect x="611.00" y="523.70" width="5.80" height="5.80" fill="#FF0000" stroke="#FF0000" stroke-width="1.0"/>
<rect x="611.60" y="523.70" width="5.80" height="5.80" fill="#FF0000" stroke="#FF0000" stroke-width="1.0"/>
<rect x="612.20" y="523.70" width="5.80" height="5.80" fill="#FF0000" stroke="#FF0000" stroke-width="1.0"/>
<rect x="612.80" y="523.70" width="5.80" height="5.80" fill="#FF0000" stroke="#FF0000" stroke-width="1.0"/>
<rect x="613.40" y="523.70" width="5.80" height="5.80" fill="#FF0000" stroke="#FF0000" stroke-width="1.0"/>
<rect x="614.00" y="523.70" width="5.80" height="5.80" fill="#FF0000" stroke="#FF0000" stroke-width="1.0"/>
<rect x="614.60" y="523.70" width="5.80" height="5.80" fill="#FF0000" stroke="#FF0000" stroke-width="1.0"/>
<rect x="615.20" y="523.70" width="5.80" height="5.80" fill="#FF0000" stroke="#FF0000" stroke-width="1.0"/>
<rect x="615.80" y="523.70" width="5.80" height="5.80" fill="#FF0000" stroke="#FF0000" stroke-width="1.0"/>
<rect x="616.40" y="523.70" width="5.80" height="5.80" fill="#FF0000" stroke="#FF0000" stroke-width="1.0"/>
<rect x="617.00" y="523.70" width="5.80" height="5.80" fill="#FF0000" stroke="#FF0000" stroke-width="1.0"/>
<rect x="617.65" y="523.35" width="5.30" height="5.30" fill="#fff" stroke="#FF0000" stroke-width="1.15"/>
<rect x="681.55" y="527.75" width="5.30" height="5.30" fill="#fff" stroke="#FF0000" stroke-width="1.15"/>
<polyline points="484.8,342.9 550.6,364.1 557.2,366.3 564,370.1 570.9,375.9 577.7,380.7 584.4,385.5 590.9,392 597.4,402.4 604.2,412 610.8,422.2 611.8,425 612.5,428.4 612.6,521.6 620.7,521.9 684.2,527.9 817.7,535.3" fill="none" stroke="#FF7F00" stroke-width="1.8" stroke-linecap="butt" stroke-linejoin="round"/>
<path d="M547.63 366.15L553.57 366.15L550.60 361.13Z" fill="#fff" stroke="#FF7F00" stroke-width="1.15"/>
<path d="M554.23 368.35L560.17 368.35L557.20 363.33Z" fill="#fff" stroke="#FF7F00" stroke-width="1.15"/>
<path d="M561.03 372.15L566.97 372.15L564.00 367.13Z" fill="#fff" stroke="#FF7F00" stroke-width="1.15"/>
<path d="M567.93 377.95L573.87 377.95L570.90 372.93Z" fill="#fff" stroke="#FF7F00" stroke-width="1.15"/>
<path d="M574.73 382.75L580.67 382.75L577.70 377.73Z" fill="#fff" stroke="#FF7F00" stroke-width="1.15"/>
<path d="M581.43 387.55L587.37 387.55L584.40 382.53Z" fill="#fff" stroke="#FF7F00" stroke-width="1.15"/>
<path d="M587.93 394.05L593.87 394.05L590.90 389.03Z" fill="#fff" stroke="#FF7F00" stroke-width="1.15"/>
<path d="M594.43 404.45L600.37 404.45L597.40 399.43Z" fill="#fff" stroke="#FF7F00" stroke-width="1.15"/>
<path d="M601.23 414.05L607.17 414.05L604.20 409.03Z" fill="#fff" stroke="#FF7F00" stroke-width="1.15"/>
<path d="M607.83 424.25L613.77 424.25L610.80 419.23Z" fill="#fff" stroke="#FF7F00" stroke-width="1.15"/>
<path d="M608.83 427.05L614.77 427.05L611.80 422.03Z" fill="#fff" stroke="#FF7F00" stroke-width="1.15"/>
<path d="M609.53 430.45L615.47 430.45L612.50 425.43Z" fill="#fff" stroke="#FF7F00" stroke-width="1.15"/>
<path d="M609.64 522.91L615.76 522.91L612.70 517.74Z" fill="#FF7F00" stroke="#FF7F00" stroke-width="1.0"/>
<path d="M610.24 522.91L616.36 522.91L613.30 517.74Z" fill="#FF7F00" stroke="#FF7F00" stroke-width="1.0"/>
<path d="M610.84 522.91L616.96 522.91L613.90 517.74Z" fill="#FF7F00" stroke="#FF7F00" stroke-width="1.0"/>
<path d="M611.44 522.91L617.56 522.91L614.50 517.74Z" fill="#FF7F00" stroke="#FF7F00" stroke-width="1.0"/>
<path d="M612.04 522.91L618.16 522.91L615.10 517.74Z" fill="#FF7F00" stroke="#FF7F00" stroke-width="1.0"/>
<path d="M612.64 522.91L618.76 522.91L615.70 517.74Z" fill="#FF7F00" stroke="#FF7F00" stroke-width="1.0"/>
<path d="M613.24 522.91L619.36 522.91L616.30 517.74Z" fill="#FF7F00" stroke="#FF7F00" stroke-width="1.0"/>
<path d="M613.84 522.91L619.96 522.91L616.90 517.74Z" fill="#FF7F00" stroke="#FF7F00" stroke-width="1.0"/>
<path d="M614.44 522.91L620.56 522.91L617.50 517.74Z" fill="#FF7F00" stroke="#FF7F00" stroke-width="1.0"/>
<path d="M615.04 522.91L621.16 522.91L618.10 517.74Z" fill="#FF7F00" stroke="#FF7F00" stroke-width="1.0"/>
<path d="M615.64 522.91L621.76 522.91L618.70 517.74Z" fill="#FF7F00" stroke="#FF7F00" stroke-width="1.0"/>
<path d="M616.24 522.91L622.36 522.91L619.30 517.74Z" fill="#FF7F00" stroke="#FF7F00" stroke-width="1.0"/>
<path d="M616.84 522.91L622.96 522.91L619.90 517.74Z" fill="#FF7F00" stroke="#FF7F00" stroke-width="1.0"/>
<path d="M617.73 523.35L623.67 523.35L620.70 518.33Z" fill="#fff" stroke="#FF7F00" stroke-width="1.15"/>
<path d="M681.23 529.75L687.17 529.75L684.20 524.73Z" fill="#fff" stroke="#FF7F00" stroke-width="1.15"/>
<rect x="484.6" y="324.6" width="333" height="271.1" fill="none" stroke="#000" stroke-width="1.45"/>
<path d="M551.2 595.7v-6.3M551.2 324.6v6.3M617.8 595.7v-6.3M617.8 324.6v6.3M684.5 595.7v-6.3M684.5 324.6v6.3M751.1 595.7v-6.3M751.1 324.6v6.3M517.9 595.7v-3.4M517.9 324.6v3.4M584.5 595.7v-3.4M584.5 324.6v3.4M651.2 595.7v-3.4M651.2 324.6v3.4M717.8 595.7v-3.4M717.8 324.6v3.4M784.4 595.7v-3.4M784.4 324.6v3.4M484.6 541.5h6.3M817.6 541.5h-6.3M484.6 487.3h6.3M817.6 487.3h-6.3M484.6 433.1h6.3M817.6 433.1h-6.3M484.6 378.9h6.3M817.6 378.9h-6.3M484.6 568.6h3.4M817.6 568.6h-3.4M484.6 514.4h3.4M817.6 514.4h-3.4M484.6 460.2h3.4M817.6 460.2h-3.4M484.6 406h3.4M817.6 406h-3.4M484.6 351.8h3.4M817.6 351.8h-3.4" stroke="#000" stroke-width="0.9" fill="none"/>
<text x="551.5" y="614.2" font-size="22" text-anchor="middle" >3.08</text>
<text x="618.1" y="614.2" font-size="22" text-anchor="middle" >3.09</text>
<text x="684.8" y="614.2" font-size="22" text-anchor="middle" >3.1</text>
<text x="751.4" y="614.2" font-size="22" text-anchor="middle" >3.11</text>
<text x="482" y="603.1" font-size="22" text-anchor="end" >0</text>
<text x="482" y="548.9" font-size="22" text-anchor="end" >0.02</text>
<text x="482" y="494.7" font-size="22" text-anchor="end" >0.04</text>
<text x="482" y="440.5" font-size="22" text-anchor="end" >0.06</text>
<text x="482" y="386.3" font-size="22" text-anchor="end" >0.08</text>
<text x="482.8" y="332.1" font-size="22" text-anchor="end" >0.1</text>
<text x="651.2" y="633" font-size="21" text-anchor="middle" >M</text>
<text x="489.8" y="339.8" font-size="17.2" text-anchor="start" >(d)</text>
<circle cx="715.6" cy="350.4" r="4.0" fill="#fff" stroke="#000000" stroke-width="1.5"/>
<text x="727" y="358.1" font-size="24" text-anchor="start" >T=0.00</text>
<rect x="712.20" y="373.60" width="6.80" height="6.80" fill="#fff" stroke="#FF0000" stroke-width="1.5"/>
<text x="727" y="384.7" font-size="24" text-anchor="start" >T=0.01</text>
<path d="M711.91 406.54L719.29 406.54L715.60 400.31Z" fill="#fff" stroke="#FF7F00" stroke-width="1.5"/>
<text x="727" y="410.7" font-size="24" text-anchor="start" >T=0.02</text>
<g transform="translate(429,457.5) rotate(-90)">
<path d="M-16.2 -13.5L-21.6 0L-16.2 13.5" fill="none" stroke="#000" stroke-width="1.3"/>
<path d="M16.2 -13.5L21.6 0L16.2 13.5" fill="none" stroke="#000" stroke-width="1.3"/>
<text transform="translate(-5.8,7.3) scale(1.12,1)" text-anchor="middle" font-size="29.5" font-style="italic">n</text><text x="7.5" y="11" text-anchor="middle" font-size="18">1</text>
</g>
</g>
</svg>
</body></html>
